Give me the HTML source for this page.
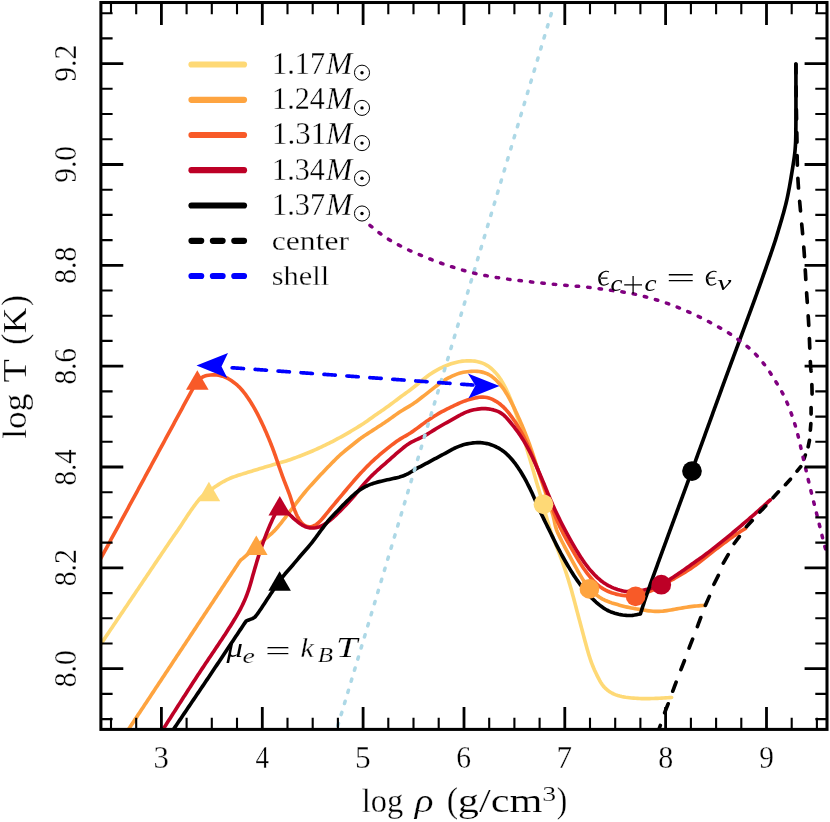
<!DOCTYPE html>
<html><head><meta charset="utf-8"><title>log T - log rho</title>
<style>html,body{margin:0;padding:0;background:#fff}svg{display:block;will-change:transform}text{font-family:"Liberation Serif",serif;fill:#000}</style>
</head><body>
<svg width="830" height="822" viewBox="0 0 830 822">
<rect width="830" height="822" fill="#fff"/>
<defs><clipPath id="cp"><rect x="100.9" y="2.5" width="726.1" height="726.9"/></clipPath></defs>
<g clip-path="url(#cp)" fill="none" stroke-linejoin="round" stroke-linecap="round">
<path d="M96.00 651.00 L97.18 649.37 L98.35 647.72 L99.50 646.06 L100.64 644.40 L101.77 642.73 L102.90 641.06 L104.04 639.39 L105.16 637.72 L106.29 636.04 L107.42 634.37 L108.55 632.70 L109.68 631.02 L110.81 629.35 L111.94 627.68 L113.06 626.00 L114.19 624.33 L115.32 622.66 L116.45 620.98 L117.57 619.31 L118.70 617.63 L119.83 615.96 L120.95 614.29 L122.08 612.61 L123.21 610.94 L124.34 609.26 L125.46 607.59 L126.59 605.92 L127.72 604.24 L128.84 602.57 L129.97 600.89 L131.10 599.22 L132.22 597.55 L133.35 595.87 L134.48 594.20 L135.61 592.52 L136.73 590.85 L137.86 589.18 L138.99 587.50 L140.12 585.83 L141.24 584.15 L142.37 582.48 L143.50 580.81 L144.62 579.13 L145.75 577.46 L146.88 575.78 L148.00 574.11 L149.13 572.44 L150.26 570.76 L151.38 569.09 L152.51 567.41 L153.64 565.74 L154.76 564.06 L155.89 562.39 L157.02 560.71 L158.14 559.04 L159.27 557.37 L160.40 555.69 L161.52 554.02 L162.65 552.34 L163.78 550.67 L164.91 549.00 L166.04 547.33 L167.17 545.65 L168.30 543.98 L169.43 542.31 L170.57 540.64 L171.71 538.98 L172.85 537.31 L174.00 535.65 L175.15 534.00 L176.30 532.34 L177.46 530.69 L178.60 529.02 L179.74 527.36 L180.86 525.68 L181.97 524.00 L183.08 522.31 L184.18 520.62 L185.28 518.92 L186.38 517.23 L187.49 515.55 L188.61 513.87 L189.75 512.20 L190.90 510.55 L192.07 508.90 L193.24 507.26 L194.43 505.63 L195.63 504.01 L196.84 502.39 L198.08 500.80 L199.36 499.24 L200.69 497.74 L202.11 496.32 L203.62 495.01 L205.23 493.80 L206.90 492.68 L208.60 491.60 L210.17 490.35 L211.76 489.14 L213.38 487.96 L215.03 486.83 L216.70 485.72 L218.38 484.63 L220.08 483.56 L221.79 482.52 L223.53 481.52 L225.29 480.57 L227.08 479.67 L228.89 478.83 L230.74 478.05 L232.60 477.32 L234.48 476.63 L236.38 475.97 L238.28 475.34 L240.19 474.72 L242.10 474.12 L244.01 473.53 L245.93 472.94 L247.84 472.35 L249.76 471.75 L251.67 471.16 L253.59 470.57 L255.50 469.98 L257.42 469.39 L259.34 468.81 L261.26 468.24 L263.18 467.66 L265.10 467.09 L267.02 466.52 L268.95 465.95 L270.87 465.39 L272.79 464.82 L274.71 464.25 L276.64 463.70 L278.57 463.15 L280.50 462.61 L282.43 462.06 L284.35 461.50 L286.27 460.91 L288.17 460.30 L290.07 459.65 L291.96 458.98 L293.85 458.30 L295.73 457.61 L297.61 456.91 L299.48 456.21 L301.35 455.49 L303.22 454.76 L305.09 454.03 L306.95 453.28 L308.80 452.52 L310.65 451.75 L312.50 450.96 L314.33 450.17 L316.17 449.35 L317.99 448.52 L319.81 447.69 L321.63 446.84 L323.44 445.97 L325.24 445.10 L327.04 444.22 L328.84 443.32 L330.62 442.42 L332.41 441.51 L334.19 440.58 L335.96 439.65 L337.73 438.71 L339.49 437.75 L341.25 436.79 L343.00 435.81 L344.75 434.83 L346.49 433.83 L348.22 432.83 L349.95 431.81 L351.67 430.79 L353.40 429.76 L355.11 428.73 L356.83 427.69 L358.54 426.64 L360.24 425.59 L361.94 424.53 L363.63 423.45 L365.29 422.34 L366.94 421.19 L368.56 420.02 L370.19 418.84 L371.81 417.67 L373.44 416.50 L375.08 415.34 L376.72 414.20 L378.37 413.06 L380.03 411.93 L381.69 410.81 L383.34 409.67 L384.98 408.52 L386.62 407.36 L388.24 406.19 L389.86 405.00 L391.46 403.80 L393.07 402.60 L394.67 401.40 L396.27 400.19 L397.87 398.98 L399.47 397.78 L401.08 396.58 L402.69 395.39 L404.31 394.21 L405.94 393.04 L407.56 391.86 L409.18 390.67 L410.79 389.48 L412.39 388.27 L413.97 387.05 L415.54 385.80 L417.09 384.53 L418.63 383.24 L420.16 381.95 L421.69 380.65 L423.24 379.38 L424.81 378.14 L426.40 376.93 L428.02 375.75 L429.66 374.60 L431.33 373.48 L433.01 372.39 L434.71 371.34 L436.45 370.34 L438.21 369.39 L440.00 368.48 L441.80 367.61 L443.62 366.77 L445.45 365.96 L447.30 365.19 L449.17 364.47 L451.06 363.80 L452.97 363.19 L454.89 362.65 L456.84 362.17 L458.80 361.76 L460.77 361.43 L462.75 361.16 L464.74 360.96 L466.74 360.84 L468.74 360.79 L470.74 360.82 L472.74 360.95 L474.72 361.17 L476.69 361.49 L478.64 361.93 L480.56 362.48 L482.44 363.14 L484.28 363.92 L486.06 364.82 L487.77 365.84 L489.40 366.99 L490.96 368.23 L492.45 369.56 L493.88 370.96 L495.26 372.41 L496.58 373.92 L497.85 375.46 L499.07 377.05 L500.22 378.68 L501.32 380.36 L502.35 382.07 L503.33 383.82 L504.28 385.59 L505.20 387.37 L506.09 389.16 L506.95 390.97 L507.79 392.79 L508.61 394.62 L509.40 396.46 L510.18 398.31 L510.94 400.16 L511.69 402.02 L512.42 403.89 L513.14 405.76 L513.84 407.64 L514.54 409.52 L515.22 411.40 L515.90 413.29 L516.56 415.18 L517.22 417.07 L517.86 418.97 L518.49 420.87 L519.12 422.78 L519.74 424.68 L520.35 426.59 L520.95 428.51 L521.54 430.42 L522.13 432.34 L522.70 434.26 L523.27 436.18 L523.84 438.10 L524.39 440.03 L524.94 441.96 L525.48 443.89 L526.01 445.82 L526.54 447.75 L527.09 449.68 L527.66 451.60 L528.23 453.52 L528.82 455.44 L529.40 457.36 L529.97 459.28 L530.54 461.20 L531.10 463.13 L531.66 465.05 L532.21 466.98 L532.76 468.91 L533.31 470.83 L533.86 472.76 L534.41 474.69 L534.95 476.62 L535.50 478.55 L536.06 480.47 L536.62 482.40 L537.19 484.32 L537.76 486.24 L538.35 488.16 L538.94 490.07 L539.52 491.99 L540.10 493.91 L540.66 495.83 L541.20 497.76 L541.73 499.70 L542.25 501.63 L542.78 503.57 L543.30 505.50 L543.83 507.44 L544.35 509.37 L544.87 511.31 L545.40 513.24 L545.93 515.17 L546.47 517.10 L547.01 519.03 L547.56 520.96 L548.12 522.89 L548.69 524.81 L549.27 526.73 L549.87 528.64 L550.49 530.54 L551.13 532.44 L551.80 534.33 L552.49 536.21 L553.20 538.09 L553.92 539.96 L554.66 541.82 L555.40 543.69 L556.15 545.54 L556.91 547.40 L557.66 549.26 L558.41 551.12 L559.13 552.99 L559.84 554.86 L560.54 556.74 L561.23 558.62 L561.91 560.51 L562.58 562.40 L563.24 564.29 L563.90 566.18 L564.55 568.08 L565.19 569.98 L565.83 571.88 L566.45 573.78 L567.07 575.69 L567.68 577.60 L568.28 579.51 L568.87 581.43 L569.45 583.35 L570.02 585.27 L570.58 587.19 L571.13 589.12 L571.68 591.05 L572.21 592.98 L572.74 594.91 L573.26 596.85 L573.78 598.79 L574.30 600.72 L574.81 602.66 L575.32 604.60 L575.83 606.54 L576.34 608.48 L576.85 610.42 L577.36 612.35 L577.87 614.29 L578.39 616.23 L578.91 618.16 L579.43 620.10 L579.95 622.04 L580.47 623.97 L580.99 625.91 L581.50 627.85 L582.02 629.78 L582.53 631.72 L583.04 633.66 L583.56 635.60 L584.07 637.53 L584.59 639.47 L585.11 641.41 L585.63 643.34 L586.16 645.27 L586.70 647.21 L587.24 649.14 L587.78 651.06 L588.34 652.99 L588.92 654.91 L589.51 656.82 L590.13 658.73 L590.78 660.63 L591.46 662.51 L592.17 664.39 L592.91 666.25 L593.68 668.10 L594.47 669.94 L595.30 671.76 L596.15 673.58 L597.02 675.38 L597.91 677.18 L598.83 678.96 L599.78 680.72 L600.79 682.45 L601.88 684.12 L603.07 685.72 L604.36 687.24 L605.77 688.65 L607.27 689.96 L608.85 691.17 L610.52 692.27 L612.25 693.25 L614.05 694.12 L615.90 694.87 L617.79 695.52 L619.71 696.06 L621.66 696.52 L623.62 696.90 L625.60 697.22 L627.58 697.49 L629.57 697.73 L631.57 697.94 L633.56 698.12 L635.56 698.28 L637.56 698.41 L639.56 698.51 L641.56 698.58 L643.57 698.62 L645.57 698.62 L647.58 698.61 L649.58 698.57 L651.58 698.53 L653.59 698.47 L655.59 698.41 L657.59 698.34 L659.60 698.25 L661.60 698.15 L663.60 698.04 L665.60 697.91 L667.60 697.78 L669.60 697.64 L671.60 697.50" stroke="#FED976" stroke-width="3.65"/>
<path d="M126.00 733.00 L125.89 733.20 L126.07 732.98 L126.62 732.17 L127.47 730.89 L128.50 729.35 L129.58 727.72 L130.69 726.05 L131.80 724.38 L132.90 722.71 L134.01 721.04 L135.11 719.36 L136.22 717.69 L137.33 716.02 L138.43 714.35 L139.54 712.68 L140.64 711.01 L141.75 709.34 L142.85 707.67 L143.96 705.99 L145.06 704.32 L146.17 702.65 L147.27 700.98 L148.38 699.31 L149.48 697.64 L150.59 695.97 L151.69 694.29 L152.80 692.62 L153.90 690.95 L155.01 689.28 L156.12 687.61 L157.22 685.94 L158.33 684.27 L159.43 682.59 L160.54 680.92 L161.64 679.25 L162.75 677.58 L163.85 675.91 L164.96 674.24 L166.06 672.57 L167.17 670.89 L168.27 669.22 L169.38 667.55 L170.48 665.88 L171.59 664.21 L172.70 662.54 L173.80 660.87 L174.91 659.20 L176.01 657.53 L177.12 655.85 L178.22 654.18 L179.33 652.51 L180.44 650.84 L181.54 649.17 L182.65 647.50 L183.75 645.83 L184.86 644.16 L185.97 642.49 L187.07 640.82 L188.18 639.15 L189.29 637.47 L190.39 635.80 L191.50 634.13 L192.60 632.46 L193.71 630.79 L194.82 629.12 L195.92 627.45 L197.03 625.78 L198.14 624.11 L199.24 622.44 L200.35 620.77 L201.45 619.10 L202.56 617.43 L203.67 615.76 L204.77 614.09 L205.88 612.41 L206.99 610.74 L208.09 609.07 L209.20 607.40 L210.31 605.73 L211.41 604.06 L212.52 602.39 L213.63 600.72 L214.73 599.05 L215.84 597.38 L216.95 595.71 L218.05 594.04 L219.16 592.37 L220.27 590.70 L221.37 589.03 L222.48 587.36 L223.59 585.69 L224.69 584.02 L225.80 582.35 L226.91 580.68 L228.01 579.00 L229.12 577.33 L230.23 575.66 L231.33 573.99 L232.44 572.32 L233.55 570.65 L234.65 568.98 L235.76 567.31 L236.86 565.65 L237.92 564.03 L238.91 562.55 L239.74 561.33 L240.38 560.47 L240.95 559.90 L241.63 559.38 L242.59 558.66 L243.82 557.66 L245.22 556.47 L246.69 555.18 L248.18 553.84 L249.67 552.50 L251.15 551.15 L252.63 549.81 L254.12 548.46 L255.61 547.12 L257.11 545.79 L258.62 544.47 L260.13 543.16 L261.66 541.87 L263.19 540.58 L264.73 539.30 L266.28 538.03 L267.83 536.76 L269.36 535.47 L270.87 534.15 L272.34 532.80 L273.77 531.39 L275.16 529.95 L276.50 528.47 L277.82 526.96 L279.10 525.42 L280.36 523.87 L281.61 522.29 L282.84 520.71 L284.06 519.13 L285.28 517.54 L286.50 515.95 L287.71 514.35 L288.93 512.76 L290.14 511.17 L291.36 509.58 L292.58 507.99 L293.81 506.40 L295.03 504.81 L296.25 503.23 L297.47 501.63 L298.69 500.04 L299.91 498.46 L301.15 496.88 L302.40 495.32 L303.67 493.77 L304.95 492.22 L306.24 490.69 L307.54 489.17 L308.86 487.66 L310.18 486.16 L311.52 484.67 L312.87 483.18 L314.22 481.70 L315.57 480.22 L316.93 478.75 L318.29 477.28 L319.65 475.81 L321.02 474.35 L322.40 472.89 L323.77 471.43 L325.16 469.98 L326.54 468.54 L327.93 467.09 L329.32 465.65 L330.72 464.21 L332.12 462.78 L333.53 461.35 L334.94 459.94 L336.37 458.53 L337.81 457.14 L339.27 455.77 L340.75 454.42 L342.25 453.09 L343.78 451.80 L345.32 450.52 L346.89 449.27 L348.46 448.03 L350.03 446.79 L351.61 445.54 L353.17 444.29 L354.72 443.02 L356.27 441.76 L357.84 440.51 L359.42 439.29 L361.03 438.10 L362.67 436.95 L364.33 435.82 L366.00 434.72 L367.68 433.62 L369.36 432.53 L371.04 431.44 L372.72 430.35 L374.41 429.26 L376.09 428.18 L377.77 427.09 L379.45 426.00 L381.13 424.91 L382.81 423.81 L384.48 422.70 L386.14 421.58 L387.79 420.44 L389.43 419.29 L391.06 418.13 L392.68 416.95 L394.30 415.78 L395.93 414.61 L397.57 413.46 L399.23 412.33 L400.91 411.24 L402.61 410.19 L404.33 409.16 L406.05 408.14 L407.78 407.12 L409.49 406.08 L411.19 405.02 L412.87 403.92 L414.52 402.80 L416.16 401.64 L417.77 400.46 L419.37 399.25 L420.96 398.03 L422.54 396.80 L424.12 395.57 L425.70 394.34 L427.28 393.10 L428.86 391.87 L430.43 390.63 L432.01 389.39 L433.58 388.15 L435.16 386.91 L436.74 385.69 L438.34 384.47 L439.95 383.28 L441.58 382.13 L443.24 381.01 L444.94 379.94 L446.66 378.93 L448.41 377.97 L450.20 377.05 L452.00 376.18 L453.82 375.36 L455.67 374.59 L457.54 373.88 L459.43 373.26 L461.36 372.74 L463.31 372.31 L465.28 371.97 L467.26 371.70 L469.25 371.49 L471.25 371.34 L473.24 371.25 L475.24 371.24 L477.23 371.33 L479.21 371.54 L481.16 371.88 L483.10 372.36 L485.00 372.95 L486.85 373.66 L488.65 374.50 L490.37 375.49 L492.00 376.61 L493.56 377.85 L495.06 379.17 L496.50 380.55 L497.89 381.99 L499.24 383.47 L500.54 385.00 L501.78 386.56 L502.98 388.16 L504.13 389.80 L505.23 391.47 L506.28 393.17 L507.31 394.90 L508.30 396.64 L509.26 398.39 L510.20 400.16 L511.12 401.94 L512.03 403.73 L512.92 405.52 L513.79 407.33 L514.66 409.13 L515.52 410.94 L516.37 412.76 L517.21 414.57 L518.05 416.40 L518.87 418.22 L519.69 420.05 L520.50 421.89 L521.30 423.72 L522.08 425.57 L522.86 427.41 L523.63 429.26 L524.39 431.12 L525.14 432.98 L525.87 434.84 L526.60 436.71 L527.32 438.58 L528.03 440.45 L528.73 442.33 L529.41 444.21 L530.09 446.10 L530.75 447.99 L531.40 449.88 L532.04 451.78 L532.68 453.68 L533.31 455.58 L533.93 457.49 L534.55 459.39 L535.17 461.30 L535.78 463.21 L536.39 465.12 L537.01 467.02 L537.62 468.93 L538.24 470.84 L538.85 472.74 L539.47 474.65 L540.10 476.55 L540.73 478.46 L541.36 480.36 L542.00 482.26 L542.64 484.16 L543.28 486.06 L543.92 487.95 L544.56 489.85 L545.21 491.75 L545.85 493.65 L546.50 495.54 L547.14 497.44 L547.78 499.34 L548.43 501.24 L549.06 503.14 L549.70 505.04 L550.33 506.94 L550.96 508.84 L551.57 510.75 L552.17 512.66 L552.75 514.58 L553.29 516.50 L553.77 518.45 L554.20 520.40 L554.60 522.36 L555.01 524.32 L555.47 526.26 L556.02 528.17 L556.67 530.06 L557.40 531.92 L558.20 533.75 L559.04 535.57 L559.91 537.38 L560.80 539.17 L561.70 540.96 L562.61 542.74 L563.54 544.52 L564.47 546.30 L565.40 548.07 L566.34 549.84 L567.28 551.61 L568.21 553.38 L569.15 555.15 L570.09 556.92 L571.03 558.69 L571.98 560.46 L572.93 562.22 L573.89 563.98 L574.85 565.74 L575.82 567.49 L576.79 569.24 L577.78 570.99 L578.78 572.72 L579.79 574.46 L580.81 576.18 L581.84 577.90 L582.89 579.60 L583.97 581.29 L585.08 582.95 L586.25 584.57 L587.48 586.15 L588.78 587.67 L590.13 589.14 L591.53 590.58 L592.97 591.97 L594.45 593.31 L595.98 594.60 L597.55 595.83 L599.18 596.98 L600.86 598.06 L602.59 599.06 L604.37 599.97 L606.19 600.79 L608.04 601.55 L609.91 602.24 L611.81 602.89 L613.72 603.49 L615.64 604.07 L617.56 604.62 L619.49 605.15 L621.43 605.67 L623.37 606.17 L625.32 606.65 L627.27 607.10 L629.22 607.53 L631.18 607.94 L633.15 608.32 L635.12 608.69 L637.09 609.03 L639.07 609.37 L641.05 609.69 L643.03 609.99 L645.01 610.29 L646.99 610.57 L648.98 610.82 L650.97 611.04 L652.97 611.22 L654.96 611.33 L656.96 611.39 L658.96 611.36 L660.96 611.27 L662.95 611.10 L664.94 610.86 L666.92 610.58 L668.90 610.27 L670.87 609.93 L672.85 609.59 L674.82 609.25 L676.80 608.91 L678.77 608.57 L680.74 608.22 L682.72 607.87 L684.69 607.52 L686.67 607.19 L688.65 606.89 L690.63 606.62 L692.62 606.39 L694.61 606.18 L696.61 606.00 L698.61 605.84 L700.60 605.69 L702.60 605.54 L704.60 605.40" stroke="#FEA440" stroke-width="3.65"/>
<path d="M95.00 569.10 L96.05 567.17 L97.10 565.23 L98.15 563.30 L99.20 561.37 L100.25 559.43 L101.30 557.50 L102.26 555.72 L103.23 553.95 L104.19 552.17 L105.15 550.39 L106.12 548.62 L107.08 546.84 L108.04 545.07 L109.01 543.29 L109.97 541.51 L110.93 539.74 L111.89 537.96 L112.86 536.18 L113.82 534.41 L114.78 532.63 L115.75 530.86 L116.71 529.08 L117.67 527.30 L118.64 525.53 L119.60 523.75 L120.56 521.97 L121.53 520.20 L122.49 518.42 L123.45 516.64 L124.42 514.87 L125.38 513.09 L126.34 511.32 L127.31 509.54 L128.27 507.76 L129.23 505.99 L130.19 504.21 L131.16 502.43 L132.12 500.66 L133.08 498.88 L134.05 497.11 L135.01 495.33 L135.97 493.55 L136.94 491.78 L137.90 490.00 L138.87 488.21 L139.84 486.43 L140.80 484.64 L141.77 482.86 L142.74 481.07 L143.71 479.29 L144.68 477.50 L145.64 475.71 L146.61 473.93 L147.58 472.14 L148.55 470.36 L149.51 468.57 L150.48 466.79 L151.45 465.00 L152.42 463.21 L153.39 461.43 L154.35 459.64 L155.32 457.86 L156.29 456.07 L157.26 454.29 L158.22 452.50 L159.19 450.71 L160.16 448.93 L161.13 447.14 L162.10 445.36 L163.06 443.57 L164.03 441.79 L165.00 440.00 L165.96 438.22 L166.92 436.45 L167.88 434.67 L168.85 432.89 L169.81 431.12 L170.77 429.34 L171.73 427.56 L172.69 425.78 L173.65 424.01 L174.62 422.23 L175.58 420.45 L176.54 418.68 L177.50 416.90 L178.46 415.12 L179.42 413.35 L180.38 411.57 L181.35 409.79 L182.31 408.02 L183.27 406.24 L184.23 404.46 L185.19 402.68 L186.15 400.91 L187.12 399.13 L188.08 397.35 L189.04 395.58 L190.00 393.80 L190.96 392.04 L191.91 390.28 L192.88 388.53 L193.87 386.78 L194.89 385.06 L195.96 383.39 L197.12 381.78 L198.39 380.28 L199.79 378.92 L201.33 377.76 L203.02 376.81 L204.81 376.08 L206.70 375.55 L208.64 375.20 L210.61 374.99 L212.60 374.89 L214.59 374.91 L216.57 375.03 L218.55 375.27 L220.50 375.63 L222.41 376.13 L224.27 376.78 L226.09 377.58 L227.85 378.49 L229.57 379.50 L231.25 380.58 L232.89 381.72 L234.50 382.91 L236.05 384.17 L237.56 385.48 L239.01 386.85 L240.40 388.28 L241.74 389.76 L243.04 391.29 L244.28 392.85 L245.49 394.45 L246.67 396.07 L247.81 397.71 L248.93 399.37 L250.02 401.05 L251.09 402.75 L252.13 404.46 L253.15 406.18 L254.15 407.92 L255.13 409.66 L256.09 411.42 L257.04 413.19 L257.96 414.96 L258.87 416.75 L259.76 418.54 L260.64 420.34 L261.50 422.15 L262.36 423.96 L263.20 425.78 L264.03 427.61 L264.85 429.43 L265.66 431.27 L266.46 433.10 L267.25 434.94 L268.03 436.79 L268.81 438.64 L269.57 440.49 L270.33 442.34 L271.07 444.21 L271.80 446.07 L272.51 447.94 L273.21 449.82 L273.90 451.70 L274.58 453.59 L275.25 455.47 L275.91 457.36 L276.57 459.26 L277.23 461.15 L277.88 463.04 L278.53 464.94 L279.18 466.83 L279.84 468.73 L280.50 470.62 L281.16 472.51 L281.84 474.40 L282.52 476.28 L283.22 478.16 L283.93 480.03 L284.64 481.90 L285.37 483.77 L286.10 485.64 L286.83 487.50 L287.56 489.37 L288.29 491.23 L288.99 493.11 L289.67 494.99 L290.33 496.89 L290.95 498.79 L291.55 500.70 L292.14 502.61 L292.74 504.53 L293.35 506.43 L293.99 508.33 L294.68 510.20 L295.42 512.06 L296.21 513.90 L297.05 515.72 L297.96 517.49 L298.94 519.22 L300.03 520.88 L301.23 522.43 L302.57 523.84 L304.06 525.05 L305.69 525.99 L307.44 526.61 L309.26 526.87 L311.11 526.76 L312.92 526.29 L314.65 525.52 L316.29 524.49 L317.84 523.28 L319.30 521.95 L320.70 520.52 L322.04 519.05 L323.35 517.53 L324.63 515.99 L325.90 514.44 L327.16 512.88 L328.41 511.32 L329.67 509.76 L330.93 508.20 L332.19 506.65 L333.47 505.10 L334.75 503.56 L336.03 502.02 L337.32 500.48 L338.60 498.95 L339.89 497.41 L341.17 495.87 L342.45 494.33 L343.74 492.79 L345.02 491.26 L346.31 489.72 L347.60 488.19 L348.89 486.65 L350.18 485.12 L351.48 483.60 L352.79 482.08 L354.10 480.56 L355.42 479.06 L356.74 477.55 L358.08 476.06 L359.42 474.57 L360.78 473.10 L362.14 471.63 L363.51 470.17 L364.89 468.72 L366.28 467.28 L367.68 465.85 L369.10 464.43 L370.54 463.04 L372.00 461.66 L373.47 460.30 L374.96 458.96 L376.45 457.63 L377.96 456.31 L379.47 454.99 L380.99 453.69 L382.52 452.39 L384.05 451.11 L385.60 449.83 L387.15 448.57 L388.72 447.32 L390.30 446.08 L391.89 444.87 L393.49 443.67 L395.11 442.49 L396.74 441.33 L398.40 440.20 L400.07 439.11 L401.77 438.05 L403.50 437.04 L405.24 436.05 L406.97 435.05 L408.69 434.03 L410.39 432.97 L412.06 431.87 L413.71 430.74 L415.34 429.57 L416.96 428.39 L418.57 427.20 L420.18 426.00 L421.78 424.81 L423.40 423.62 L425.02 422.44 L426.64 421.27 L428.29 420.13 L429.94 419.00 L431.61 417.89 L433.29 416.80 L434.99 415.74 L436.70 414.69 L438.42 413.67 L440.16 412.68 L441.92 411.72 L443.68 410.78 L445.47 409.87 L447.26 408.97 L449.05 408.08 L450.85 407.20 L452.65 406.32 L454.46 405.45 L456.27 404.59 L458.09 403.75 L459.92 402.94 L461.76 402.15 L463.62 401.41 L465.50 400.72 L467.39 400.08 L469.30 399.49 L471.23 398.95 L473.17 398.45 L475.11 398.00 L477.07 397.60 L479.04 397.30 L481.01 397.12 L482.99 397.08 L484.96 397.20 L486.90 397.50 L488.81 397.97 L490.68 398.62 L492.50 399.40 L494.27 400.31 L495.99 401.31 L497.67 402.38 L499.30 403.53 L500.88 404.76 L502.39 406.06 L503.83 407.43 L505.22 408.87 L506.55 410.36 L507.84 411.89 L509.09 413.46 L510.31 415.04 L511.50 416.65 L512.67 418.27 L513.82 419.92 L514.93 421.58 L516.02 423.26 L517.09 424.96 L518.13 426.67 L519.14 428.40 L520.13 430.14 L521.11 431.89 L522.06 433.65 L523.00 435.42 L523.91 437.20 L524.82 438.99 L525.70 440.79 L526.57 442.59 L527.42 444.40 L528.26 446.22 L529.09 448.05 L529.89 449.88 L530.69 451.72 L531.46 453.57 L532.23 455.42 L532.98 457.28 L533.73 459.14 L534.46 461.00 L535.19 462.87 L535.92 464.74 L536.64 466.61 L537.35 468.48 L538.07 470.35 L538.78 472.22 L539.50 474.09 L540.21 475.96 L540.92 477.84 L541.63 479.71 L542.34 481.59 L543.04 483.46 L543.74 485.34 L544.43 487.22 L545.13 489.10 L545.82 490.98 L546.51 492.86 L547.20 494.74 L547.89 496.62 L548.58 498.50 L549.27 500.38 L549.96 502.26 L550.67 504.14 L551.37 506.02 L552.09 507.89 L552.80 509.76 L553.53 511.63 L554.26 513.49 L555.00 515.35 L555.75 517.21 L556.51 519.06 L557.29 520.91 L558.08 522.75 L558.89 524.58 L559.73 526.40 L560.58 528.21 L561.46 530.02 L562.35 531.81 L563.26 533.59 L564.19 535.37 L565.14 537.13 L566.09 538.89 L567.06 540.65 L568.04 542.40 L569.03 544.14 L570.02 545.88 L571.02 547.62 L572.02 549.35 L573.03 551.09 L574.03 552.82 L575.04 554.55 L576.06 556.28 L577.07 558.00 L578.10 559.73 L579.13 561.44 L580.18 563.15 L581.25 564.84 L582.35 566.52 L583.47 568.17 L584.62 569.81 L585.80 571.43 L587.01 573.03 L588.24 574.61 L589.49 576.17 L590.77 577.71 L592.08 579.22 L593.43 580.71 L594.81 582.15 L596.24 583.54 L597.73 584.88 L599.27 586.15 L600.86 587.34 L602.52 588.44 L604.23 589.46 L606.00 590.40 L607.80 591.24 L609.64 592.01 L611.52 592.70 L613.42 593.32 L615.34 593.87 L617.28 594.36 L619.23 594.78 L621.20 595.13 L623.18 595.41 L625.17 595.62 L627.16 595.76 L629.16 595.83 L631.15 595.82 L633.15 595.73 L635.14 595.56 L637.11 595.30 L639.08 594.94 L641.02 594.49 L642.94 593.95 L644.84 593.33 L646.72 592.65 L648.58 591.92 L650.43 591.15 L652.26 590.34 L654.08 589.50 L655.88 588.63 L657.67 587.73 L659.45 586.81 L661.22 585.87 L662.98 584.91 L664.74 583.95 L666.49 582.97 L668.24 582.00 L669.98 581.01 L671.73 580.03 L673.47 579.04 L675.21 578.04 L676.94 577.04 L678.68 576.04 L680.40 575.02 L682.12 573.99 L683.84 572.95 L685.54 571.90 L687.24 570.83 L688.92 569.75 L690.59 568.64 L692.24 567.51 L693.88 566.35 L695.50 565.18 L697.11 563.98 L698.70 562.77 L700.29 561.55 L701.87 560.32 L703.45 559.09 L705.03 557.86 L706.61 556.62 L708.18 555.38 L709.75 554.13 L711.32 552.89 L712.89 551.64 L714.46 550.40 L716.04 549.17 L717.63 547.94 L719.22 546.73 L720.82 545.52 L722.42 544.32 L724.03 543.12 L725.64 541.93 L727.25 540.74 L728.87 539.56 L730.49 538.38 L732.12 537.21 L733.76 536.06 L735.40 534.91 L737.06 533.79 L738.73 532.68 L740.41 531.59 L742.10 530.52 L743.80 529.46 L745.50 528.40" stroke="#F85A28" stroke-width="3.65"/>
<path d="M160.50 733.00 L161.41 731.67 L162.35 730.28 L163.32 728.81 L164.34 727.26 L165.40 725.64 L166.47 723.98 L167.55 722.29 L168.64 720.60 L169.72 718.91 L170.81 717.21 L171.89 715.51 L172.98 713.81 L174.06 712.12 L175.15 710.42 L176.24 708.72 L177.32 707.03 L178.41 705.33 L179.49 703.63 L180.58 701.93 L181.67 700.24 L182.75 698.54 L183.84 696.85 L184.93 695.15 L186.02 693.46 L187.11 691.76 L188.20 690.07 L189.29 688.37 L190.38 686.68 L191.47 684.99 L192.57 683.30 L193.66 681.61 L194.76 679.92 L195.86 678.23 L196.96 676.54 L198.06 674.86 L199.17 673.17 L200.28 671.49 L201.39 669.81 L202.50 668.13 L203.62 666.45 L204.74 664.78 L205.86 663.10 L206.98 661.43 L208.10 659.76 L209.22 658.08 L210.35 656.41 L211.48 654.74 L212.60 653.07 L213.73 651.40 L214.85 649.73 L215.98 648.06 L217.10 646.39 L218.22 644.71 L219.34 643.04 L220.46 641.36 L221.58 639.69 L222.69 638.01 L223.79 636.32 L224.90 634.64 L225.99 632.95 L227.09 631.25 L228.17 629.56 L229.26 627.86 L230.33 626.16 L231.40 624.45 L232.47 622.74 L233.52 621.02 L234.57 619.30 L235.60 617.57 L236.62 615.83 L237.63 614.09 L238.61 612.34 L239.59 610.57 L240.54 608.80 L241.46 607.01 L242.36 605.21 L243.23 603.39 L244.07 601.56 L244.88 599.72 L245.66 597.86 L246.40 595.99 L247.12 594.11 L247.81 592.22 L248.47 590.32 L249.10 588.41 L249.70 586.49 L250.28 584.56 L250.84 582.62 L251.39 580.69 L251.93 578.75 L252.47 576.81 L253.02 574.87 L253.57 572.93 L254.13 570.99 L254.69 569.06 L255.25 567.12 L255.82 565.19 L256.39 563.26 L256.96 561.33 L257.54 559.40 L258.12 557.47 L258.71 555.54 L259.32 553.62 L259.93 551.70 L260.56 549.79 L261.20 547.88 L261.86 545.97 L262.53 544.08 L263.21 542.18 L263.91 540.29 L264.62 538.41 L265.34 536.53 L266.07 534.65 L266.81 532.78 L267.57 530.91 L268.33 529.04 L269.10 527.18 L269.89 525.33 L270.69 523.48 L271.50 521.64 L272.33 519.80 L273.19 517.98 L274.08 516.18 L275.00 514.39 L275.96 512.62 L276.96 510.88 L278.00 509.16 L279.06 507.45 L279.60 506.60 L281.27 507.65 L282.91 508.75 L284.50 509.93 L286.02 511.18 L287.48 512.52 L288.91 513.89 L290.34 515.29 L291.78 516.68 L293.24 518.04 L294.73 519.38 L296.24 520.68 L297.79 521.95 L299.37 523.16 L301.00 524.30 L302.68 525.34 L304.41 526.24 L306.20 526.99 L308.06 527.54 L309.95 527.89 L311.88 528.04 L313.82 527.99 L315.76 527.75 L317.66 527.33 L319.53 526.74 L321.35 525.99 L323.11 525.11 L324.81 524.11 L326.46 523.00 L328.07 521.82 L329.64 520.59 L331.18 519.31 L332.69 518.00 L334.18 516.66 L335.66 515.30 L337.11 513.93 L338.55 512.53 L339.98 511.12 L341.39 509.70 L342.79 508.26 L344.18 506.82 L345.56 505.37 L346.94 503.92 L348.31 502.45 L349.68 500.99 L351.03 499.51 L352.37 498.02 L353.68 496.51 L354.98 494.98 L356.25 493.43 L357.51 491.87 L358.76 490.31 L360.01 488.74 L361.27 487.18 L362.54 485.64 L363.84 484.11 L365.15 482.60 L366.49 481.11 L367.85 479.64 L369.23 478.19 L370.64 476.76 L372.06 475.35 L373.50 473.95 L374.96 472.58 L376.43 471.23 L377.92 469.88 L379.42 468.55 L380.93 467.23 L382.44 465.91 L383.95 464.59 L385.46 463.27 L386.96 461.95 L388.47 460.63 L389.97 459.30 L391.47 457.97 L392.97 456.64 L394.47 455.31 L395.98 453.99 L397.49 452.67 L399.01 451.36 L400.54 450.07 L402.07 448.78 L403.63 447.52 L405.20 446.29 L406.81 445.10 L408.45 443.97 L410.13 442.91 L411.86 441.94 L413.63 441.04 L415.43 440.19 L417.24 439.36 L419.05 438.52 L420.85 437.65 L422.63 436.74 L424.39 435.79 L426.13 434.81 L427.86 433.80 L429.58 432.77 L431.29 431.73 L433.00 430.67 L434.70 429.62 L436.41 428.56 L438.12 427.52 L439.83 426.49 L441.56 425.47 L443.30 424.48 L445.05 423.50 L446.80 422.53 L448.56 421.56 L450.32 420.60 L452.07 419.62 L453.82 418.64 L455.56 417.66 L457.31 416.67 L459.06 415.69 L460.81 414.73 L462.59 413.81 L464.38 412.94 L466.20 412.13 L468.05 411.41 L469.94 410.79 L471.85 410.26 L473.79 409.81 L475.75 409.43 L477.72 409.11 L479.70 408.86 L481.68 408.69 L483.66 408.62 L485.64 408.66 L487.60 408.81 L489.56 409.08 L491.51 409.44 L493.44 409.89 L495.33 410.44 L497.17 411.11 L498.95 411.91 L500.65 412.87 L502.27 413.97 L503.80 415.20 L505.25 416.54 L506.63 417.97 L507.96 419.45 L509.26 420.97 L510.53 422.52 L511.79 424.08 L513.04 425.64 L514.28 427.22 L515.50 428.81 L516.70 430.41 L517.87 432.04 L519.03 433.67 L520.16 435.33 L521.27 436.99 L522.36 438.68 L523.42 440.38 L524.46 442.09 L525.47 443.82 L526.47 445.56 L527.44 447.31 L528.38 449.08 L529.31 450.85 L530.21 452.64 L531.09 454.44 L531.96 456.25 L532.81 458.07 L533.64 459.89 L534.46 461.72 L535.27 463.55 L536.08 465.38 L536.88 467.22 L537.68 469.06 L538.47 470.90 L539.26 472.74 L540.05 474.59 L540.84 476.43 L541.62 478.28 L542.40 480.12 L543.18 481.97 L543.95 483.82 L544.71 485.68 L545.47 487.53 L546.23 489.39 L546.99 491.24 L547.75 493.09 L548.52 494.95 L549.29 496.80 L550.07 498.65 L550.85 500.49 L551.65 502.33 L552.45 504.17 L553.27 506.00 L554.10 507.82 L554.93 509.64 L555.78 511.46 L556.64 513.27 L557.51 515.08 L558.38 516.88 L559.27 518.68 L560.16 520.48 L561.05 522.27 L561.96 524.06 L562.87 525.84 L563.79 527.63 L564.72 529.40 L565.65 531.18 L566.59 532.95 L567.54 534.71 L568.50 536.47 L569.47 538.23 L570.45 539.98 L571.44 541.72 L572.44 543.46 L573.45 545.19 L574.47 546.91 L575.50 548.63 L576.54 550.35 L577.58 552.06 L578.64 553.76 L579.70 555.46 L580.78 557.15 L581.87 558.83 L582.98 560.50 L584.11 562.15 L585.28 563.78 L586.47 565.39 L587.69 566.97 L588.95 568.53 L590.24 570.07 L591.55 571.57 L592.90 573.05 L594.28 574.51 L595.69 575.93 L597.13 577.31 L598.61 578.66 L600.13 579.96 L601.68 581.21 L603.29 582.39 L604.94 583.51 L606.63 584.56 L608.37 585.54 L610.14 586.46 L611.95 587.31 L613.79 588.09 L615.65 588.82 L617.53 589.49 L619.43 590.09 L621.35 590.61 L623.30 591.03 L625.26 591.35 L627.23 591.56 L629.21 591.67 L631.20 591.67 L633.19 591.59 L635.18 591.43 L637.17 591.20 L639.15 590.92 L641.12 590.59 L643.09 590.22 L645.05 589.82 L647.01 589.38 L648.95 588.89 L650.88 588.37 L652.79 587.79 L654.69 587.16 L656.56 586.46 L658.41 585.70 L660.23 584.88 L662.02 583.99 L663.78 583.05 L665.52 582.06 L667.24 581.03 L668.93 579.97 L670.62 578.89 L672.30 577.79 L673.97 576.68 L675.63 575.56 L677.29 574.44 L678.95 573.31 L680.60 572.18 L682.25 571.04 L683.89 569.89 L685.53 568.73 L687.16 567.57 L688.79 566.40 L690.42 565.23 L692.05 564.07 L693.69 562.92 L695.33 561.76 L696.97 560.61 L698.61 559.46 L700.25 558.30 L701.88 557.14 L703.50 555.96 L705.11 554.77 L706.72 553.57 L708.31 552.35 L709.90 551.13 L711.48 549.90 L713.06 548.66 L714.64 547.42 L716.21 546.18 L717.78 544.93 L719.35 543.68 L720.91 542.43 L722.47 541.17 L724.03 539.92 L725.59 538.65 L727.15 537.39 L728.70 536.12 L730.24 534.84 L731.79 533.56 L733.32 532.27 L734.86 530.98 L736.39 529.69 L737.92 528.39 L739.44 527.09 L740.97 525.80 L742.50 524.50 L744.03 523.20 L745.55 521.90 L747.08 520.60 L748.60 519.29 L750.12 517.98 L751.63 516.67 L753.14 515.35 L754.64 514.02 L756.14 512.69 L757.64 511.36 L759.13 510.02 L760.62 508.68 L762.11 507.34 L763.60 506.00 L765.09 504.66 L766.58 503.32 L768.07 501.97 L769.56 500.63 L770.30 499.96" stroke="#BD0026" stroke-width="3.65"/>
<path d="M171.00 733.00 L172.60 730.65 L174.20 728.30 L175.34 726.61 L176.48 724.93 L177.62 723.24 L178.75 721.55 L179.89 719.86 L181.03 718.18 L182.17 716.49 L183.31 714.80 L184.45 713.12 L185.59 711.43 L186.73 709.74 L187.86 708.05 L189.00 706.37 L190.14 704.68 L191.28 702.99 L192.42 701.31 L193.56 699.62 L194.70 697.93 L195.84 696.25 L196.97 694.56 L198.11 692.87 L199.25 691.18 L200.39 689.50 L201.53 687.81 L202.67 686.12 L203.81 684.44 L204.95 682.75 L206.08 681.06 L207.22 679.37 L208.36 677.69 L209.50 676.00 L210.65 674.27 L211.81 672.54 L212.96 670.81 L214.11 669.07 L215.26 667.34 L216.42 665.61 L217.57 663.88 L218.72 662.15 L219.87 660.42 L221.03 658.68 L222.18 656.95 L223.33 655.22 L224.48 653.49 L225.64 651.76 L226.79 650.03 L227.94 648.29 L229.09 646.56 L230.25 644.83 L231.40 643.10 L232.52 641.42 L233.65 639.73 L234.77 638.05 L235.89 636.36 L237.02 634.68 L238.14 632.99 L239.26 631.31 L240.38 629.62 L241.51 627.94 L242.63 626.25 L243.75 624.57 L244.88 622.88 L246.00 621.20 L248.09 620.22 L250.24 619.40 L252.36 618.59 L254.30 617.47 L255.20 616.80 L256.44 615.23 L257.64 613.62 L258.80 611.99 L259.94 610.33 L261.05 608.67 L262.16 607.00 L263.27 605.33 L264.37 603.65 L265.47 601.98 L266.57 600.30 L267.67 598.62 L268.77 596.95 L269.87 595.27 L270.97 593.60 L272.08 591.92 L273.18 590.25 L274.29 588.57 L275.40 586.90 L276.51 585.24 L277.67 583.60 L278.85 581.99 L280.06 580.39 L281.27 578.78 L282.47 577.18 L283.69 575.59 L284.94 574.02 L286.24 572.50 L287.57 571.00 L288.91 569.51 L290.24 568.00 L291.55 566.49 L292.86 564.97 L294.16 563.44 L295.45 561.91 L296.73 560.37 L298.02 558.83 L299.30 557.29 L300.59 555.75 L301.89 554.23 L303.21 552.72 L304.53 551.21 L305.86 549.71 L307.19 548.21 L308.50 546.69 L309.80 545.17 L311.08 543.62 L312.33 542.05 L313.56 540.47 L314.76 538.87 L315.96 537.25 L317.14 535.64 L318.32 534.01 L319.50 532.39 L320.68 530.77 L321.87 529.16 L323.07 527.56 L324.29 525.96 L325.51 524.37 L326.74 522.79 L327.97 521.21 L329.23 519.64 L330.53 518.12 L331.89 516.65 L333.28 515.21 L334.68 513.77 L336.08 512.34 L337.49 510.91 L338.88 509.46 L340.25 508.01 L341.63 506.55 L343.01 505.09 L344.41 503.66 L345.82 502.23 L347.25 500.83 L348.69 499.44 L350.15 498.05 L351.61 496.68 L353.09 495.33 L354.59 494.00 L356.13 492.71 L357.71 491.48 L359.34 490.32 L361.01 489.22 L362.72 488.17 L364.46 487.17 L366.23 486.24 L368.04 485.38 L369.89 484.61 L371.76 483.91 L373.66 483.25 L375.57 482.66 L377.50 482.12 L379.45 481.63 L381.40 481.17 L383.35 480.72 L385.31 480.27 L387.26 479.84 L389.22 479.41 L391.18 478.98 L393.14 478.56 L395.10 478.12 L397.05 477.65 L398.99 477.15 L400.91 476.59 L402.81 475.96 L404.68 475.23 L406.51 474.42 L408.30 473.53 L410.05 472.55 L411.75 471.50 L413.44 470.42 L415.16 469.39 L416.91 468.42 L418.68 467.47 L420.45 466.54 L422.22 465.60 L423.99 464.66 L425.76 463.72 L427.53 462.77 L429.29 461.82 L431.06 460.86 L432.82 459.92 L434.59 458.97 L436.36 458.03 L438.14 457.09 L439.91 456.15 L441.67 455.21 L443.44 454.25 L445.20 453.30 L446.96 452.34 L448.72 451.38 L450.48 450.41 L452.24 449.45 L454.01 448.51 L455.81 447.63 L457.65 446.85 L459.52 446.12 L461.41 445.45 L463.32 444.85 L465.25 444.32 L467.20 443.87 L469.17 443.49 L471.15 443.19 L473.14 442.93 L475.13 442.71 L477.12 442.57 L479.12 442.56 L481.12 442.69 L483.11 442.93 L485.09 443.23 L487.06 443.59 L489.00 444.07 L490.91 444.67 L492.78 445.38 L494.62 446.17 L496.44 447.02 L498.22 447.94 L499.96 448.93 L501.65 450.00 L503.28 451.17 L504.84 452.42 L506.35 453.74 L507.81 455.11 L509.22 456.53 L510.59 457.99 L511.92 459.49 L513.21 461.03 L514.45 462.60 L515.67 464.19 L516.84 465.82 L517.98 467.47 L519.09 469.14 L520.17 470.83 L521.22 472.53 L522.26 474.25 L523.27 475.98 L524.26 477.72 L525.23 479.48 L526.19 481.24 L527.13 483.01 L528.06 484.78 L528.97 486.57 L529.87 488.37 L530.73 490.17 L531.59 491.99 L532.42 493.81 L533.25 495.64 L534.06 497.47 L534.87 499.30 L535.68 501.14 L536.48 502.98 L537.28 504.82 L538.09 506.65 L538.90 508.49 L539.72 510.31 L540.55 512.14 L541.39 513.96 L542.25 515.77 L543.11 517.58 L543.97 519.39 L544.85 521.20 L545.73 523.00 L546.62 524.79 L547.51 526.59 L548.40 528.39 L549.29 530.18 L550.17 531.98 L551.05 533.79 L551.93 535.59 L552.81 537.39 L553.69 539.19 L554.57 541.00 L555.45 542.79 L556.35 544.59 L557.25 546.38 L558.16 548.17 L559.08 549.95 L560.02 551.72 L560.96 553.49 L561.93 555.25 L562.90 557.00 L563.88 558.75 L564.86 560.50 L565.86 562.24 L566.86 563.98 L567.87 565.71 L568.89 567.43 L569.92 569.15 L570.96 570.87 L572.02 572.57 L573.09 574.26 L574.18 575.95 L575.28 577.62 L576.41 579.28 L577.56 580.92 L578.73 582.55 L579.92 584.16 L581.13 585.76 L582.35 587.35 L583.60 588.92 L584.88 590.46 L586.17 591.99 L587.49 593.50 L588.84 594.99 L590.20 596.46 L591.60 597.89 L593.03 599.30 L594.49 600.68 L595.97 602.02 L597.49 603.33 L599.04 604.61 L600.62 605.84 L602.23 607.04 L603.87 608.18 L605.56 609.26 L607.30 610.25 L609.09 611.14 L610.93 611.92 L612.82 612.59 L614.73 613.18 L616.67 613.71 L618.61 614.20 L620.57 614.62 L622.54 614.97 L624.53 615.25 L626.52 615.43 L628.52 615.52 L630.52 615.48 L632.51 615.32 L634.50 615.04 L636.47 614.69 L638.43 614.30 L640.40 613.90 L641.02 611.99 L641.63 610.08 L642.24 608.17 L642.85 606.26 L643.47 604.35 L644.09 602.44 L644.72 600.54 L645.36 598.64 L646.01 596.74 L646.66 594.84 L647.32 592.94 L647.98 591.05 L648.64 589.16 L649.31 587.27 L649.98 585.37 L650.65 583.48 L651.33 581.60 L652.01 579.71 L652.69 577.82 L653.37 575.93 L654.05 574.05 L654.74 572.16 L655.42 570.28 L656.11 568.39 L656.79 566.51 L657.48 564.62 L658.17 562.74 L658.86 560.85 L659.54 558.97 L660.23 557.08 L660.92 555.20 L661.61 553.32 L662.30 551.43 L662.99 549.55 L663.68 547.66 L664.37 545.78 L665.06 543.90 L665.76 542.01 L666.45 540.13 L667.14 538.25 L667.83 536.36 L668.52 534.48 L669.21 532.60 L669.90 530.71 L670.60 528.83 L671.29 526.95 L671.98 525.06 L672.67 523.18 L673.36 521.30 L674.06 519.42 L674.75 517.53 L675.44 515.65 L676.13 513.77 L676.82 511.88 L677.52 510.00 L678.21 508.12 L678.90 506.23 L679.59 504.35 L680.28 502.47 L680.98 500.58 L681.67 498.70 L682.36 496.82 L683.05 494.94 L683.74 493.05 L684.43 491.17 L685.12 489.29 L685.81 487.40 L686.50 485.52 L687.20 483.63 L687.89 481.75 L688.58 479.87 L689.26 477.98 L689.95 476.10 L690.64 474.21 L691.33 472.33 L692.02 470.45 L692.71 468.56 L693.39 466.68 L694.08 464.79 L694.77 462.91 L695.46 461.02 L696.14 459.14 L696.83 457.25 L697.51 455.37 L698.20 453.48 L698.89 451.60 L699.57 449.71 L700.26 447.82 L700.94 445.94 L701.63 444.05 L702.31 442.17 L703.00 440.28 L703.68 438.40 L704.37 436.51 L705.05 434.63 L705.74 432.74 L706.42 430.85 L707.11 428.97 L707.79 427.08 L708.47 425.20 L709.16 423.31 L709.84 421.42 L710.53 419.54 L711.21 417.65 L711.89 415.77 L712.58 413.88 L713.26 411.99 L713.95 410.11 L714.63 408.22 L715.32 406.34 L716.00 404.45 L716.69 402.57 L717.37 400.68 L718.06 398.79 L718.74 396.91 L719.43 395.02 L720.11 393.14 L720.80 391.25 L721.48 389.37 L722.17 387.48 L722.86 385.60 L723.54 383.71 L724.23 381.83 L724.92 379.94 L725.61 378.06 L726.30 376.18 L726.99 374.29 L727.68 372.41 L728.38 370.53 L729.07 368.64 L729.76 366.76 L730.46 364.88 L731.16 363.00 L731.86 361.12 L732.56 359.24 L733.26 357.36 L733.96 355.48 L734.66 353.60 L735.37 351.72 L736.07 349.84 L736.77 347.96 L737.47 346.08 L738.17 344.20 L738.86 342.32 L739.56 340.44 L740.25 338.56 L740.95 336.68 L741.65 334.79 L742.34 332.91 L743.04 331.03 L743.74 329.15 L744.43 327.27 L745.13 325.39 L745.83 323.51 L746.52 321.62 L747.22 319.74 L747.91 317.86 L748.61 315.98 L749.30 314.10 L750.00 312.21 L750.69 310.33 L751.38 308.45 L752.07 306.56 L752.76 304.68 L753.45 302.80 L754.14 300.91 L754.82 299.03 L755.51 297.14 L756.19 295.25 L756.87 293.37 L757.55 291.48 L758.23 289.59 L758.91 287.70 L759.58 285.81 L760.26 283.92 L760.93 282.03 L761.60 280.14 L762.27 278.25 L762.94 276.36 L763.61 274.47 L764.28 272.58 L764.95 270.69 L765.61 268.80 L766.28 266.90 L766.94 265.01 L767.60 263.11 L768.26 261.22 L768.92 259.32 L769.57 257.43 L770.23 255.53 L770.88 253.64 L771.53 251.74 L772.18 249.84 L772.83 247.94 L773.47 246.04 L774.10 244.14 L774.73 242.23 L775.35 240.32 L775.95 238.41 L776.55 236.49 L777.13 234.57 L777.71 232.65 L778.28 230.73 L778.85 228.81 L779.43 226.88 L780.00 224.96 L780.57 223.04 L781.14 221.11 L781.70 219.19 L782.26 217.26 L782.81 215.33 L783.36 213.40 L783.89 211.47 L784.41 209.53 L784.93 207.59 L785.43 205.65 L785.91 203.70 L786.38 201.75 L786.83 199.80 L787.27 197.84 L787.69 195.88 L788.09 193.91 L788.48 191.94 L788.86 189.97 L789.23 188.00 L789.59 186.03 L789.94 184.05 L790.28 182.08 L790.62 180.10 L790.96 178.12 L791.28 176.14 L791.61 174.16 L791.93 172.18 L792.25 170.20 L792.57 168.22 L792.89 166.24 L793.21 164.26 L793.52 162.28 L793.83 160.30 L794.12 158.31 L794.40 156.32 L794.64 154.33 L794.86 152.34 L795.05 150.34 L795.21 148.34 L795.36 146.34 L795.48 144.34 L795.59 142.34 L795.67 140.33 L795.73 138.33 L795.77 136.32 L795.81 134.32 L795.83 132.31 L795.85 130.30 L795.86 128.30 L795.88 126.29 L795.89 124.29 L795.90 122.28 L795.91 120.27 L795.92 118.27 L795.93 116.26 L795.93 114.25 L795.94 112.25 L795.94 110.24 L795.94 108.24 L795.94 106.23 L795.94 104.22 L795.94 102.22 L795.94 100.21 L795.94 98.21 L795.94 96.20 L795.94 94.19 L795.94 92.19 L795.94 90.18 L795.93 88.17 L795.93 86.17 L795.93 84.16 L795.92 82.16 L795.92 80.15 L795.92 78.14 L795.92 76.14 L795.91 74.13 L795.91 72.12 L795.91 70.12 L795.90 68.11 L795.90 66.11 L795.90 64.10" stroke="#000" stroke-width="3.65"/>
<path d="M795.90 64.10 L795.91 66.11 L795.93 68.11 L795.94 70.12 L795.96 72.12 L795.97 74.13 L795.98 76.13 L796.00 78.14 L796.01 80.15 L796.03 82.15 L796.04 84.16 L796.06 86.16 L796.08 88.17 L796.10 90.17 L796.12 92.18 L796.14 94.19 L796.17 96.19 L796.19 98.20 L796.22 100.20 L796.25 102.21 L796.29 104.21 L796.32 106.22 L796.35 108.23 L796.39 110.23 L796.43 112.24 L796.46 114.24 L796.50 116.25 L796.54 118.25 L796.58 120.26 L796.62 122.26 L796.66 124.27 L796.70 126.27 L796.73 128.28 L796.77 130.29 L796.81 132.29 L796.85 134.30 L796.89 136.30 L796.93 138.31 L796.96 140.31 L796.99 142.32 L797.02 144.32 L797.05 146.33 L797.07 148.34 L797.08 150.34 L797.09 152.35 L797.11 154.35 L797.13 156.36 L797.17 158.36 L797.23 160.37 L797.28 162.37 L797.34 164.38 L797.41 166.38 L797.47 168.39 L797.54 170.39 L797.62 172.40 L797.70 174.40 L797.80 176.41 L797.89 178.41 L798.00 180.41 L798.12 182.41 L798.25 184.42 L798.38 186.42 L798.53 188.42 L798.69 190.42 L798.85 192.42 L799.02 194.41 L799.20 196.41 L799.37 198.41 L799.55 200.41 L799.74 202.41 L799.92 204.40 L800.10 206.40 L800.28 208.40 L800.46 210.40 L800.64 212.39 L800.81 214.39 L801.00 216.39 L801.18 218.39 L801.37 220.38 L801.55 222.38 L801.74 224.38 L801.93 226.38 L802.12 228.37 L802.31 230.37 L802.49 232.37 L802.68 234.36 L802.86 236.36 L803.04 238.36 L803.21 240.36 L803.38 242.36 L803.55 244.35 L803.71 246.35 L803.87 248.35 L804.02 250.35 L804.17 252.35 L804.31 254.36 L804.44 256.36 L804.57 258.36 L804.70 260.36 L804.82 262.36 L804.94 264.36 L805.06 266.37 L805.18 268.37 L805.29 270.37 L805.41 272.37 L805.52 274.38 L805.63 276.38 L805.74 278.38 L805.86 280.38 L805.97 282.39 L806.09 284.39 L806.21 286.39 L806.33 288.39 L806.46 290.40 L806.59 292.40 L806.72 294.40 L806.85 296.40 L806.99 298.40 L807.13 300.40 L807.27 302.40 L807.41 304.40 L807.55 306.41 L807.69 308.41 L807.82 310.41 L807.96 312.41 L808.09 314.41 L808.22 316.41 L808.35 318.41 L808.48 320.42 L808.59 322.42 L808.71 324.42 L808.82 326.42 L808.92 328.43 L809.02 330.43 L809.12 332.43 L809.21 334.44 L809.30 336.44 L809.38 338.44 L809.47 340.45 L809.55 342.45 L809.63 344.46 L809.71 346.46 L809.79 348.47 L809.87 350.47 L809.95 352.47 L810.03 354.48 L810.11 356.48 L810.20 358.49 L810.29 360.49 L810.38 362.49 L810.49 364.50 L810.62 366.50 L810.78 368.50 L810.99 370.49 L811.25 372.48 L811.46 374.47 L811.61 376.47 L811.69 378.47 L811.75 380.48 L811.80 382.48 L811.86 384.49 L811.92 386.49 L811.97 388.50 L812.03 390.50 L812.06 392.51 L812.08 394.51 L812.08 396.52 L812.05 398.52 L811.99 400.53" stroke="#000" stroke-width="3.65" stroke-dasharray="9.60 13.35" stroke-dashoffset="0.38" />
<path d="M702.73 611.87 L702.09 613.78 L701.43 615.68 L700.75 617.57 L700.05 619.46 L699.35 621.35 L698.64 623.23 L697.94 625.11 L697.23 627.00 L696.52 628.88 L695.81 630.76 L695.10 632.65 L694.38 634.53 L693.66 636.40 L692.93 638.28 L692.19 640.15 L691.45 642.02 L690.71 643.89 L689.97 645.77 L689.24 647.64 L688.52 649.52 L687.82 651.40 L687.13 653.29 L686.45 655.19 L685.77 657.08 L685.07 658.97 L684.36 660.85 L683.63 662.72 L682.89 664.60 L682.15 666.47 L681.41 668.34 L680.67 670.21 L679.94 672.09 L679.22 673.96 L678.50 675.84 L677.79 677.73 L677.08 679.61 L676.38 681.49 L675.67 683.38 L674.96 685.26 L674.25 687.14 L673.55 689.03 L672.85 690.92 L672.16 692.81 L671.47 694.70 L670.80 696.59 L670.12 698.49 L669.44 700.38 L668.74 702.27 L668.02 704.15 L667.28 706.02 L666.54 707.89 L665.80 709.76 L665.08 711.64 L664.37 713.52 L663.70 715.42 L663.04 717.32 L662.40 719.23 L661.76 721.13 L661.12 723.04 L660.47 724.95 L659.81 726.85 L659.15 728.75 L658.49 730.65 L657.83 732.55 L657.50 733.50" stroke="#000" stroke-width="3.65" stroke-dasharray="9.60 13.45" stroke-dashoffset="17.01" />
<path d="M811.10 407.52 L811.10 414.07 M810.86 423.62 L810.34 430.18 M809.45 440.29 L808.15 446.81 M805.32 455.03 L804.08 458.67 M800.74 466.71 L797.06 471.19 M790.47 479.15 L785.43 484.65 M778.47 491.84 L773.03 497.76 M765.74 505.82 L759.76 512.08 M752.25 520.53 L746.45 526.67 M739.32 536.57 L734.18 543.53 M728.19 554.68 L723.31 563.12 M718.38 575.43 L713.92 584.27 M709.36 596.37 L705.34 605.43" stroke="#000" stroke-width="3.65"/>
<path d="M552.70 9.00 L552.40 10.00 L552.10 11.00 L551.80 12.00 L551.50 13.00 L551.20 14.00 L550.90 15.00 L550.60 16.00 L550.30 17.00 L550.00 18.00 L549.70 19.00 L549.40 20.00 L549.10 21.00 L548.80 22.00 L548.50 23.00 L548.20 24.00 L547.90 25.00 L547.60 26.00 L547.30 27.00 L547.00 28.00 L546.70 29.00 L546.40 30.00 L546.10 31.00 L545.80 32.00 L545.50 33.00 L545.20 34.00 L544.90 35.00 L544.60 36.00 L544.30 37.00 L544.00 38.00 L543.70 39.00 L543.40 40.00 L543.10 41.00 L542.80 42.00 L542.50 43.00 L542.20 44.00 L541.90 45.00 L541.60 46.00 L541.30 47.00 L541.01 48.00 L540.71 49.00 L540.41 50.00 L540.11 51.00 L539.81 52.00 L539.51 53.00 L539.21 54.00 L538.91 55.00 L538.61 56.00 L538.31 57.00 L538.01 58.00 L537.71 59.00 L537.41 60.00 L537.11 61.00 L536.81 62.00 L536.51 63.00 L536.21 64.00 L535.91 65.00 L535.61 66.00 L535.31 67.00 L535.01 68.00 L534.71 69.00 L534.41 70.00 L534.11 71.00 L533.81 72.00 L533.51 73.00 L533.21 74.00 L532.91 75.00 L532.61 76.00 L532.31 77.00 L532.01 78.00 L531.71 79.00 L531.41 80.00 L531.11 81.00 L530.81 82.00 L530.51 83.00 L530.21 84.00 L529.91 85.00 L529.61 86.00 L529.31 87.00 L529.01 88.00 L528.71 89.00 L528.41 90.00 L528.11 91.00 L527.81 92.00 L527.51 93.00 L527.21 94.00 L526.91 95.00 L526.61 96.00 L526.31 97.00 L526.02 98.00 L525.72 99.00 L525.42 100.00 L525.12 101.00 L524.82 102.00 L524.52 103.00 L524.22 104.00 L523.92 105.00 L523.62 106.00 L523.32 107.00 L523.02 108.00 L522.72 109.00 L522.42 110.00 L522.12 111.00 L521.82 112.00 L521.52 113.00 L521.22 114.00 L520.92 115.00 L520.62 116.00 L520.32 117.00 L520.02 118.00 L519.72 119.00 L519.42 120.00 L519.12 121.00 L518.82 122.00 L518.52 123.00 L518.22 124.00 L517.92 125.00 L517.62 126.00 L517.32 127.00 L517.02 128.00 L516.72 129.00 L516.42 130.00 L516.12 131.00 L515.82 132.00 L515.52 133.00 L515.22 134.00 L514.92 135.00 L514.62 136.00 L514.32 137.00 L514.02 138.00 L513.72 139.00 L513.42 140.00 L513.12 141.00 L512.82 142.00 L512.52 143.00 L512.22 144.00 L511.92 145.00 L511.62 146.00 L511.32 147.00 L511.03 148.00 L510.73 149.00 L510.43 150.00 L510.13 151.00 L509.83 152.00 L509.53 153.00 L509.23 154.00 L508.93 155.00 L508.63 156.00 L508.33 157.00 L508.03 158.00 L507.73 159.00 L507.43 160.00 L507.13 161.00 L506.83 162.00 L506.53 163.00 L506.23 164.00 L505.93 165.00 L505.63 166.00 L505.33 167.00 L505.03 168.00 L504.73 169.00 L504.43 170.00 L504.13 171.00 L503.83 172.00 L503.53 173.00 L503.23 174.00 L502.93 175.00 L502.63 176.00 L502.33 177.00 L502.03 178.00 L501.73 179.00 L501.43 180.00 L501.13 181.00 L500.83 182.00 L500.53 183.00 L500.23 184.00 L499.93 185.00 L499.63 186.00 L499.33 187.00 L499.03 188.00 L498.73 189.00 L498.43 190.00 L498.13 191.00 L497.83 192.00 L497.53 193.00 L497.23 194.00 L496.93 195.00 L496.63 196.00 L496.33 197.00 L496.04 198.00 L495.74 199.00 L495.44 200.00 L495.14 201.00 L494.84 202.00 L494.54 203.00 L494.24 204.00 L493.94 205.00 L493.64 206.00 L493.34 207.00 L493.04 208.00 L492.74 209.00 L492.44 210.00 L492.14 211.00 L491.84 212.00 L491.54 213.00 L491.24 214.00 L490.94 215.00 L490.64 216.00 L490.34 217.00 L490.04 218.00 L489.74 219.00 L489.44 220.00 L489.14 221.00 L488.84 222.00 L488.54 223.00 L488.24 224.00 L487.94 225.00 L487.64 226.00 L487.34 227.00 L487.04 228.00 L486.74 229.00 L486.44 230.00 L486.14 231.00 L485.84 232.00 L485.54 233.00 L485.24 234.00 L484.94 235.00 L484.64 236.00 L484.34 237.00 L484.04 238.00 L483.74 239.00 L483.44 240.00 L483.14 241.00 L482.84 242.00 L482.54 243.00 L482.24 244.00 L481.94 245.00 L481.64 246.00 L481.34 247.00 L481.05 248.00 L480.75 249.00 L480.45 250.00 L480.15 251.00 L479.85 252.00 L479.55 253.00 L479.25 254.00 L478.95 255.00 L478.65 256.00 L478.35 257.00 L478.05 258.00 L477.75 259.00 L477.45 260.00 L477.15 261.00 L476.85 262.00 L476.55 263.00 L476.25 264.00 L475.95 265.00 L475.65 266.00 L475.35 267.00 L475.05 268.00 L474.75 269.00 L474.45 270.00 L474.15 271.00 L473.85 272.00 L473.55 273.00 L473.25 274.00 L472.95 275.00 L472.65 276.00 L472.35 277.00 L472.05 278.00 L471.75 279.00 L471.45 280.00 L471.15 281.00 L470.85 282.00 L470.55 283.00 L470.25 284.00 L469.95 285.00 L469.65 286.00 L469.35 287.00 L469.05 288.00 L468.75 289.00 L468.45 290.00 L468.15 291.00 L467.85 292.00 L467.55 293.00 L467.25 294.00 L466.95 295.00 L466.65 296.00 L466.35 297.00 L466.06 298.00 L465.76 299.00 L465.46 300.00 L465.16 301.00 L464.86 302.00 L464.56 303.00 L464.26 304.00 L463.96 305.00 L463.66 306.00 L463.36 307.00 L463.06 308.00 L462.76 309.00 L462.46 310.00 L462.16 311.00 L461.86 312.00 L461.56 313.00 L461.26 314.00 L460.96 315.00 L460.66 316.00 L460.36 317.00 L460.06 318.00 L459.76 319.00 L459.46 320.00 L459.16 321.00 L458.86 322.00 L458.56 323.00 L458.26 324.00 L457.96 325.00 L457.66 326.00 L457.36 327.00 L457.06 328.00 L456.76 329.00 L456.46 330.00 L456.16 331.00 L455.86 332.00 L455.56 333.00 L455.26 334.00 L454.96 335.00 L454.66 336.00 L454.36 337.00 L454.06 338.00 L453.76 339.00 L453.46 340.00 L453.16 341.00 L452.86 342.00 L452.56 343.00 L452.26 344.00 L451.96 345.00 L451.66 346.00 L451.36 347.00 L451.07 348.00 L450.77 349.00 L450.47 350.00 L450.17 351.00 L449.87 352.00 L449.57 353.00 L449.27 354.00 L448.97 355.00 L448.67 356.00 L448.37 357.00 L448.07 358.00 L447.77 359.00 L447.47 360.00 L447.17 361.00 L446.87 362.00 L446.57 363.00 L446.27 364.00 L445.97 365.00 L445.67 366.00 L445.37 367.00 L445.07 368.00 L444.77 369.00 L444.47 370.00 L444.17 371.00 L443.87 372.00 L443.57 373.00 L443.27 374.00 L442.97 375.00 L442.67 376.00 L442.37 377.00 L442.07 378.00 L441.77 379.00 L441.47 380.00 L441.17 381.00 L440.87 382.00 L440.57 383.00 L440.27 384.00 L439.97 385.00 L439.67 386.00 L439.37 387.00 L439.07 388.00 L438.77 389.00 L438.47 390.00 L438.17 391.00 L437.87 392.00 L437.57 393.00 L437.27 394.00 L436.97 395.00 L436.67 396.00 L436.37 397.00 L436.08 398.00 L435.78 399.00 L435.48 400.00 L435.18 401.00 L434.88 402.00 L434.58 403.00 L434.28 404.00 L433.98 405.00 L433.68 406.00 L433.38 407.00 L433.08 408.00 L432.78 409.00 L432.48 410.00 L432.18 411.00 L431.88 412.00 L431.58 413.00 L431.28 414.00 L430.98 415.00 L430.68 416.00 L430.38 417.00 L430.08 418.00 L429.78 419.00 L429.48 420.00 L429.18 421.00 L428.88 422.00 L428.58 423.00 L428.28 424.00 L427.98 425.00 L427.68 426.00 L427.38 427.00 L427.08 428.00 L426.78 429.00 L426.48 430.00 L426.18 431.00 L425.88 432.00 L425.58 433.00 L425.28 434.00 L424.98 435.00 L424.68 436.00 L424.38 437.00 L424.08 438.00 L423.78 439.00 L423.48 440.00 L423.18 441.00 L422.88 442.00 L422.58 443.00 L422.28 444.00 L421.98 445.00 L421.68 446.00 L421.38 447.00 L421.09 448.00 L420.79 449.00 L420.49 450.00 L420.19 451.00 L419.89 452.00 L419.59 453.00 L419.29 454.00 L418.99 455.00 L418.69 456.00 L418.39 457.00 L418.09 458.00 L417.79 459.00 L417.49 460.00 L417.19 461.00 L416.89 462.00 L416.59 463.00 L416.29 464.00 L415.99 465.00 L415.69 466.00 L415.39 467.00 L415.09 468.00 L414.79 469.00 L414.49 470.00 L414.19 471.00 L413.89 472.00 L413.59 473.00 L413.29 474.00 L412.99 475.00 L412.69 476.00 L412.39 477.00 L412.09 478.00 L411.79 479.00 L411.49 480.00 L411.19 481.00 L410.89 482.00 L410.59 483.00 L410.29 484.00 L409.99 485.00 L409.69 486.00 L409.39 487.00 L409.09 488.00 L408.79 489.00 L408.49 490.00 L408.19 491.00 L407.89 492.00 L407.59 493.00 L407.29 494.00 L406.99 495.00 L406.69 496.00 L406.39 497.00 L406.10 498.00 L405.80 499.00 L405.50 500.00 L405.20 501.00 L404.90 502.00 L404.60 503.00 L404.30 504.00 L404.00 505.00 L403.70 506.00 L403.40 507.00 L403.10 508.00 L402.80 509.00 L402.50 510.00 L402.20 511.00 L401.90 512.00 L401.60 513.00 L401.30 514.00 L401.00 515.00 L400.70 516.00 L400.40 517.00 L400.10 518.00 L399.80 519.00 L399.50 520.00 L399.20 521.00 L398.90 522.00 L398.60 523.00 L398.30 524.00 L398.00 525.00 L397.70 526.00 L397.40 527.00 L397.10 528.00 L396.80 529.00 L396.50 530.00 L396.20 531.00 L395.90 532.00 L395.60 533.00 L395.30 534.00 L395.00 535.00 L394.70 536.00 L394.40 537.00 L394.10 538.00 L393.80 539.00 L393.50 540.00 L393.20 541.00 L392.90 542.00 L392.60 543.00 L392.30 544.00 L392.00 545.00 L391.70 546.00 L391.40 547.00 L391.11 548.00 L390.81 549.00 L390.51 550.00 L390.21 551.00 L389.91 552.00 L389.61 553.00 L389.31 554.00 L389.01 555.00 L388.71 556.00 L388.41 557.00 L388.11 558.00 L387.81 559.00 L387.51 560.00 L387.21 561.00 L386.91 562.00 L386.61 563.00 L386.31 564.00 L386.01 565.00 L385.71 566.00 L385.41 567.00 L385.11 568.00 L384.81 569.00 L384.51 570.00 L384.21 571.00 L383.91 572.00 L383.61 573.00 L383.31 574.00 L383.01 575.00 L382.71 576.00 L382.41 577.00 L382.11 578.00 L381.81 579.00 L381.51 580.00 L381.21 581.00 L380.91 582.00 L380.61 583.00 L380.31 584.00 L380.01 585.00 L379.71 586.00 L379.41 587.00 L379.11 588.00 L378.81 589.00 L378.51 590.00 L378.21 591.00 L377.91 592.00 L377.61 593.00 L377.31 594.00 L377.01 595.00 L376.71 596.00 L376.41 597.00 L376.12 598.00 L375.82 599.00 L375.52 600.00 L375.22 601.00 L374.92 602.00 L374.62 603.00 L374.32 604.00 L374.02 605.00 L373.72 606.00 L373.42 607.00 L373.12 608.00 L372.82 609.00 L372.52 610.00 L372.22 611.00 L371.92 612.00 L371.62 613.00 L371.32 614.00 L371.02 615.00 L370.72 616.00 L370.42 617.00 L370.12 618.00 L369.82 619.00 L369.52 620.00 L369.22 621.00 L368.92 622.00 L368.62 623.00 L368.32 624.00 L368.02 625.00 L367.72 626.00 L367.42 627.00 L367.12 628.00 L366.82 629.00 L366.52 630.00 L366.22 631.00 L365.92 632.00 L365.62 633.00 L365.32 634.00 L365.02 635.00 L364.72 636.00 L364.42 637.00 L364.12 638.00 L363.82 639.00 L363.52 640.00 L363.22 641.00 L362.92 642.00 L362.62 643.00 L362.32 644.00 L362.02 645.00 L361.72 646.00 L361.42 647.00 L361.13 648.00 L360.83 649.00 L360.53 650.00 L360.23 651.00 L359.93 652.00 L359.63 653.00 L359.33 654.00 L359.03 655.00 L358.73 656.00 L358.43 657.00 L358.13 658.00 L357.83 659.00 L357.53 660.00 L357.23 661.00 L356.93 662.00 L356.63 663.00 L356.33 664.00 L356.03 665.00 L355.73 666.00 L355.43 667.00 L355.13 668.00 L354.83 669.00 L354.53 670.00 L354.23 671.00 L353.93 672.00 L353.63 673.00 L353.33 674.00 L353.03 675.00 L352.73 676.00 L352.43 677.00 L352.13 678.00 L351.83 679.00 L351.53 680.00 L351.23 681.00 L350.93 682.00 L350.63 683.00 L350.33 684.00 L350.03 685.00 L349.73 686.00 L349.43 687.00 L349.13 688.00 L348.83 689.00 L348.53 690.00 L348.23 691.00 L347.93 692.00 L347.63 693.00 L347.33 694.00 L347.03 695.00 L346.73 696.00 L346.43 697.00 L346.14 698.00 L345.84 699.00 L345.54 700.00 L345.24 701.00 L344.94 702.00 L344.64 703.00 L344.34 704.00 L344.04 705.00 L343.74 706.00 L343.44 707.00 L343.14 708.00 L342.84 709.00 L342.54 710.00 L342.24 711.00 L341.94 712.00 L341.64 713.00 L341.34 714.00 L341.04 715.00 L340.74 716.00 L340.44 717.00 L340.14 718.00 L339.84 719.00 L339.54 720.00 L339.24 721.00 L338.94 722.00 L338.64 723.00 L338.34 724.00 L338.04 725.00 L337.74 726.00 L337.44 727.00 L337.14 728.00 L336.84 729.00 L336.54 730.00 L336.24 731.00 L335.94 732.00 L335.64 733.00 L335.34 734.00 L335.04 735.00 L334.74 736.00 L334.44 737.00 L334.14 738.00 L333.84 739.00 L333.54 740.00" stroke="#ADD8E6" stroke-width="3.5" stroke-dasharray="2.3 9.280" stroke-dashoffset="6.80"/>
<path d="M369.20 224.80 L370.77 226.05 L372.33 227.30 L373.89 228.56 L375.46 229.81 L377.03 231.05 L378.61 232.29 L380.20 233.51 L381.80 234.71 L383.42 235.89 L385.06 237.03 L386.72 238.15 L388.41 239.23 L390.12 240.28 L391.84 241.30 L393.58 242.30 L395.33 243.27 L397.09 244.22 L398.86 245.16 L400.64 246.08 L402.43 246.99 L404.22 247.89 L406.02 248.77 L407.83 249.63 L409.64 250.48 L411.47 251.30 L413.30 252.11 L415.14 252.91 L416.98 253.69 L418.83 254.46 L420.68 255.23 L422.54 255.99 L424.39 256.75 L426.25 257.51 L428.10 258.26 L429.96 259.00 L431.83 259.74 L433.70 260.46 L435.57 261.18 L437.45 261.87 L439.33 262.56 L441.22 263.23 L443.11 263.88 L445.01 264.53 L446.91 265.16 L448.81 265.79 L450.72 266.42 L452.62 267.03 L454.53 267.64 L456.45 268.24 L458.36 268.83 L460.28 269.41 L462.20 269.98 L464.12 270.54 L466.05 271.08 L467.98 271.61 L469.92 272.12 L471.86 272.62 L473.81 273.10 L475.76 273.55 L477.71 273.99 L479.67 274.41 L481.64 274.81 L483.60 275.20 L485.57 275.58 L487.54 275.94 L489.51 276.29 L491.49 276.63 L493.46 276.96 L495.44 277.29 L497.42 277.61 L499.40 277.92 L501.38 278.23 L503.36 278.53 L505.34 278.82 L507.33 279.10 L509.31 279.37 L511.30 279.63 L513.29 279.89 L515.27 280.13 L517.26 280.37 L519.25 280.60 L521.24 280.84 L523.23 281.06 L525.23 281.29 L527.22 281.51 L529.21 281.73 L531.20 281.95 L533.19 282.17 L535.18 282.39 L537.18 282.60 L539.17 282.81 L541.16 283.01 L543.16 283.22 L545.15 283.42 L547.14 283.61 L549.14 283.81 L551.13 284.00 L553.13 284.19 L555.12 284.38 L557.12 284.57 L559.11 284.75 L561.11 284.93 L563.10 285.10 L565.10 285.27 L567.10 285.44 L569.10 285.59 L571.09 285.75 L573.09 285.91 L575.09 286.07 L577.09 286.23 L579.08 286.40 L581.08 286.57 L583.07 286.76 L585.07 286.95 L587.06 287.16 L589.05 287.38 L591.04 287.61 L593.03 287.86 L595.02 288.11 L597.01 288.38 L598.99 288.65 L600.98 288.92 L602.96 289.20 L604.94 289.49 L606.93 289.78 L608.91 290.07 L610.89 290.36 L612.87 290.64 L614.86 290.93 L616.84 291.20 L618.83 291.47 L620.82 291.72 L622.80 291.96 L624.79 292.23 L626.77 292.53 L628.74 292.89 L630.70 293.28 L632.66 293.70 L634.62 294.13 L636.57 294.58 L638.52 295.04 L640.47 295.51 L642.41 295.99 L644.36 296.48 L646.30 296.99 L648.23 297.50 L650.16 298.03 L652.09 298.58 L654.02 299.14 L655.94 299.71 L657.85 300.30 L659.76 300.91 L661.67 301.53 L663.57 302.16 L665.46 302.80 L667.36 303.46 L669.25 304.13 L671.13 304.81 L673.01 305.51 L674.88 306.22 L676.75 306.95 L678.61 307.68 L680.47 308.43 L682.32 309.20 L684.17 309.97 L686.01 310.76 L687.85 311.57 L689.68 312.38 L691.50 313.20 L693.32 314.04 L695.14 314.89 L696.95 315.75 L698.76 316.62 L700.56 317.50 L702.35 318.39 L704.14 319.29 L705.92 320.21 L707.70 321.13 L709.47 322.07 L711.24 323.02 L713.00 323.97 L714.76 324.93 L716.51 325.90 L718.26 326.88 L720.00 327.87 L721.74 328.86 L723.48 329.86 L725.20 330.88 L726.92 331.90 L728.63 332.95 L730.32 334.03 L731.99 335.13 L733.64 336.27 L735.27 337.44 L736.88 338.63 L738.49 339.83 L740.09 341.03 L741.70 342.23 L743.30 343.43 L744.89 344.64 L746.47 345.87 L748.03 347.14 L749.55 348.43 L751.04 349.77 L752.50 351.14 L753.93 352.54 L755.33 353.97 L756.71 355.43 L758.06 356.91 L759.39 358.41 L760.69 359.93 L761.97 361.47 L763.23 363.03 L764.45 364.61 L765.66 366.22 L766.83 367.84 L767.98 369.48 L769.12 371.13 L770.23 372.80 L771.32 374.48 L772.40 376.17 L773.47 377.86 L774.52 379.56 L775.58 381.27 L776.63 382.97 L777.67 384.69 L778.70 386.40 L779.72 388.13 L780.73 389.86 L781.70 391.61 L782.66 393.37 L783.58 395.15 L784.46 396.95 L785.32 398.76 L786.15 400.58 L786.95 402.42 L787.72 404.27 L788.48 406.12 L789.22 407.98 L789.94 409.85 L790.65 411.73 L791.33 413.61 L792.00 415.50 L792.66 417.39 L793.30 419.29 L793.92 421.19 L794.53 423.10 L795.12 425.02 L795.69 426.94 L796.24 428.86 L796.78 430.79 L797.29 432.73 L797.79 434.67 L798.27 436.62 L798.74 438.56 L799.21 440.51 L799.66 442.46 L800.11 444.42 L800.56 446.37 L801.00 448.33 L801.45 450.28 L801.89 452.23 L802.34 454.19 L802.79 456.14 L803.25 458.09 L803.70 460.04 L804.16 461.99 L804.62 463.94 L805.07 465.89 L805.52 467.85 L805.97 469.80 L806.42 471.75 L806.87 473.71 L807.32 475.66 L807.77 477.61 L808.22 479.56 L808.68 481.51 L809.14 483.46 L809.60 485.41 L810.07 487.36 L810.54 489.31 L811.02 491.26 L811.50 493.20 L811.98 495.15 L812.46 497.09 L812.95 499.03 L813.44 500.98 L813.93 502.92 L814.42 504.86 L814.91 506.80 L815.40 508.75 L815.89 510.69 L816.38 512.63 L816.87 514.58 L817.35 516.52 L817.83 518.47 L818.31 520.41 L818.79 522.36 L819.27 524.30 L819.75 526.25 L820.22 528.20 L820.70 530.14 L821.17 532.09 L821.65 534.04 L822.13 535.98 L822.61 537.93 L823.10 539.87 L823.59 541.81 L824.09 543.75 L824.60 545.69 L825.13 547.62 L825.66 549.55 L826.22 551.48 L826.79 553.40 L827.38 555.32 L827.98 557.23 L828.58 559.14 L829.19 561.05 L829.50 562.00" stroke="#800080" stroke-width="3.5" stroke-dasharray="2.45 9.05" stroke-dashoffset="-1.00"/>
<path d="M228.00 367.46 L228.84 367.52 L229.68 367.58 L230.52 367.64 L231.36 367.70 L232.20 367.76 L233.04 367.82 L233.88 367.88 L234.72 367.94 L235.56 368.00 L236.40 368.06 L237.24 368.12 L238.08 368.18 L238.92 368.24 L239.76 368.30 L240.60 368.36 L241.44 368.42 L242.28 368.48 L243.12 368.54 L243.96 368.60 L244.80 368.66 L245.64 368.72 L246.48 368.78 L247.32 368.84 L248.16 368.90 L249.00 368.96 L249.84 369.02 L250.68 369.08 L251.52 369.14 L252.36 369.20 L253.20 369.26 L254.04 369.32 L254.88 369.38 L255.72 369.44 L256.56 369.50 L257.40 369.56 L258.24 369.62 L259.08 369.69 L259.92 369.75 L260.76 369.81 L261.60 369.87 L262.44 369.93 L263.28 369.99 L264.12 370.05 L264.96 370.11 L265.80 370.17 L266.64 370.23 L267.48 370.29 L268.32 370.35 L269.16 370.41 L270.00 370.47 L270.84 370.53 L271.68 370.59 L272.52 370.65 L273.36 370.71 L274.20 370.77 L275.04 370.83 L275.88 370.89 L276.72 370.95 L277.56 371.01 L278.40 371.07 L279.24 371.13 L280.08 371.19 L280.92 371.25 L281.76 371.31 L282.60 371.37 L283.44 371.43 L284.28 371.49 L285.12 371.55 L285.96 371.61 L286.80 371.67 L287.64 371.73 L288.48 371.79 L289.32 371.85 L290.16 371.91 L291.00 371.97 L291.84 372.03 L292.68 372.09 L293.52 372.15 L294.36 372.21 L295.20 372.27 L296.04 372.34 L296.88 372.40 L297.72 372.46 L298.56 372.52 L299.40 372.58 L300.24 372.64 L301.08 372.70 L301.92 372.76 L302.76 372.82 L303.60 372.88 L304.44 372.94 L305.28 373.00 L306.12 373.06 L306.96 373.12 L307.80 373.18 L308.64 373.24 L309.48 373.30 L310.32 373.36 L311.16 373.42 L312.00 373.48 L312.84 373.54 L313.68 373.60 L314.52 373.66 L315.36 373.72 L316.20 373.78 L317.04 373.84 L317.88 373.90 L318.72 373.96 L319.56 374.02 L320.40 374.08 L321.24 374.14 L322.08 374.20 L322.92 374.26 L323.76 374.32 L324.60 374.38 L325.44 374.44 L326.28 374.50 L327.12 374.56 L327.96 374.62 L328.80 374.68 L329.64 374.74 L330.48 374.80 L331.32 374.86 L332.16 374.92 L333.00 374.99 L333.84 375.05 L334.68 375.11 L335.52 375.17 L336.36 375.23 L337.20 375.29 L338.04 375.35 L338.88 375.41 L339.72 375.47 L340.56 375.53 L341.40 375.59 L342.24 375.65 L343.08 375.71 L343.92 375.77 L344.76 375.83 L345.60 375.89 L346.44 375.95 L347.28 376.01 L348.12 376.07 L348.96 376.13 L349.80 376.19 L350.64 376.25 L351.48 376.31 L352.32 376.37 L353.16 376.43 L354.00 376.49 L354.84 376.55 L355.68 376.61 L356.52 376.67 L357.36 376.73 L358.20 376.79 L359.04 376.85 L359.88 376.91 L360.72 376.97 L361.56 377.03 L362.40 377.09 L363.24 377.15 L364.08 377.21 L364.92 377.27 L365.76 377.33 L366.60 377.39 L367.44 377.45 L368.28 377.51 L369.12 377.57 L369.96 377.64 L370.80 377.70 L371.64 377.76 L372.48 377.82 L373.32 377.88 L374.16 377.94 L375.00 378.00 L375.84 378.06 L376.68 378.12 L377.52 378.18 L378.36 378.24 L379.20 378.30 L380.04 378.36 L380.88 378.42 L381.72 378.48 L382.56 378.54 L383.40 378.60 L384.24 378.66 L385.08 378.72 L385.92 378.78 L386.76 378.84 L387.60 378.90 L388.44 378.96 L389.28 379.02 L390.12 379.08 L390.96 379.14 L391.80 379.20 L392.64 379.26 L393.48 379.32 L394.32 379.38 L395.16 379.44 L396.00 379.50 L396.84 379.56 L397.68 379.62 L398.52 379.68 L399.36 379.74 L400.20 379.80 L401.04 379.86 L401.88 379.92 L402.72 379.98 L403.56 380.04 L404.40 380.10 L405.24 380.16 L406.08 380.22 L406.92 380.29 L407.76 380.35 L408.60 380.41 L409.44 380.47 L410.28 380.53 L411.12 380.59 L411.96 380.65 L412.80 380.71 L413.64 380.77 L414.48 380.83 L415.32 380.89 L416.16 380.95 L417.00 381.01 L417.84 381.07 L418.68 381.13 L419.52 381.19 L420.36 381.25 L421.20 381.31 L422.04 381.37 L422.88 381.43 L423.72 381.49 L424.56 381.55 L425.40 381.61 L426.24 381.67 L427.08 381.73 L427.92 381.79 L428.76 381.85 L429.60 381.91 L430.44 381.97 L431.28 382.03 L432.12 382.09 L432.96 382.15 L433.80 382.21 L434.64 382.27 L435.48 382.33 L436.32 382.39 L437.16 382.45 L438.00 382.51 L438.84 382.57 L439.68 382.63 L440.52 382.69 L441.36 382.75 L442.20 382.81 L443.04 382.87 L443.88 382.94 L444.72 383.00 L445.56 383.06 L446.40 383.12 L447.24 383.18 L448.08 383.24 L448.92 383.30 L449.76 383.36 L450.60 383.42 L451.44 383.48 L452.28 383.54 L453.12 383.60 L453.96 383.66 L454.80 383.72 L455.64 383.78 L456.48 383.84 L457.32 383.90 L458.16 383.96 L459.00 384.02 L459.84 384.08 L460.68 384.14 L461.52 384.20 L462.36 384.26 L463.20 384.32 L464.04 384.38 L464.88 384.44 L465.72 384.50 L466.56 384.56 L467.40 384.62 L468.24 384.68 L469.08 384.74 L469.92 384.80 L470.76 384.86 L471.60 384.92 L472.44 384.98 L473.28 385.04 L474.12 385.10 L474.96 385.16 L475.80 385.22 L476.64 385.28 L477.48 385.34 L478.32 385.40 L479.16 385.46 L480.00 385.53" stroke="#0000FF" stroke-width="3.65" stroke-dasharray="11.35 11.65" stroke-dashoffset="18.79" />
</g>
<path d="M196.5 365.4 L228 353.0 L221.5 366.4 L227.3 378.0 Z" fill="#0000FF"/>
<path d="M499.5 386.0 L468.3 398.6 L475.4 385.6 L467.9 373.4 Z" fill="#0000FF"/>
<path d="M208.9 481.8 L197.6 501.3 L220.2 501.3 Z" fill="#FED976"/>
<path d="M256.3 535.6 L245.0 555.1 L267.6 555.1 Z" fill="#FEA440"/>
<path d="M197.3 370.3 L186.0 389.8 L208.6 389.8 Z" fill="#F85A28"/>
<path d="M279.8 495.9 L268.5 515.4 L291.1 515.4 Z" fill="#BD0026"/>
<path d="M279.6 571.3 L268.3 590.8 L290.9 590.8 Z" fill="#000000"/>
<circle cx="543.5" cy="504.3" r="9.85" fill="#FED976"/>
<circle cx="589.4" cy="588.9" r="9.85" fill="#FEA440"/>
<circle cx="635.6" cy="596.3" r="9.85" fill="#F85A28"/>
<circle cx="661.3" cy="584.7" r="9.85" fill="#BD0026"/>
<circle cx="692.0" cy="471.1" r="9.85" fill="#000000"/>
<g stroke="#000" fill="none">
<rect x="100.9" y="2.5" width="726.1" height="726.9" stroke-width="3.05"/>
<path d="M161.4 2.5 v22.4 M161.4 729.4 v-22.4 M262.3 2.5 v22.4 M262.3 729.4 v-22.4 M363.1 2.5 v22.4 M363.1 729.4 v-22.4 M464.0 2.5 v22.4 M464.0 729.4 v-22.4 M564.8 2.5 v22.4 M564.8 729.4 v-22.4 M665.6 2.5 v22.4 M665.6 729.4 v-22.4 M766.5 2.5 v22.4 M766.5 729.4 v-22.4 M100.9 668.7 h22.4 M827.0 668.7 h-22.4 M100.9 567.9 h22.4 M827.0 567.9 h-22.4 M100.9 467.0 h22.4 M827.0 467.0 h-22.4 M100.9 366.2 h22.4 M827.0 366.2 h-22.4 M100.9 265.3 h22.4 M827.0 265.3 h-22.4 M100.9 164.5 h22.4 M827.0 164.5 h-22.4 M100.9 63.6 h22.4 M827.0 63.6 h-22.4" stroke-width="2.8"/>
<path d="M111.0 2.5 v11.7 M111.0 729.4 v-11.7 M136.2 2.5 v11.7 M136.2 729.4 v-11.7 M186.6 2.5 v11.7 M186.6 729.4 v-11.7 M211.8 2.5 v11.7 M211.8 729.4 v-11.7 M237.0 2.5 v11.7 M237.0 729.4 v-11.7 M287.5 2.5 v11.7 M287.5 729.4 v-11.7 M312.7 2.5 v11.7 M312.7 729.4 v-11.7 M337.9 2.5 v11.7 M337.9 729.4 v-11.7 M388.3 2.5 v11.7 M388.3 729.4 v-11.7 M413.5 2.5 v11.7 M413.5 729.4 v-11.7 M438.7 2.5 v11.7 M438.7 729.4 v-11.7 M489.2 2.5 v11.7 M489.2 729.4 v-11.7 M514.4 2.5 v11.7 M514.4 729.4 v-11.7 M539.6 2.5 v11.7 M539.6 729.4 v-11.7 M590.0 2.5 v11.7 M590.0 729.4 v-11.7 M615.2 2.5 v11.7 M615.2 729.4 v-11.7 M640.4 2.5 v11.7 M640.4 729.4 v-11.7 M690.9 2.5 v11.7 M690.9 729.4 v-11.7 M716.1 2.5 v11.7 M716.1 729.4 v-11.7 M741.3 2.5 v11.7 M741.3 729.4 v-11.7 M791.7 2.5 v11.7 M791.7 729.4 v-11.7 M816.9 2.5 v11.7 M816.9 729.4 v-11.7 M100.9 719.1 h11.7 M827.0 719.1 h-11.7 M100.9 693.9 h11.7 M827.0 693.9 h-11.7 M100.9 643.5 h11.7 M827.0 643.5 h-11.7 M100.9 618.3 h11.7 M827.0 618.3 h-11.7 M100.9 593.1 h11.7 M827.0 593.1 h-11.7 M100.9 542.6 h11.7 M827.0 542.6 h-11.7 M100.9 517.4 h11.7 M827.0 517.4 h-11.7 M100.9 492.2 h11.7 M827.0 492.2 h-11.7 M100.9 441.8 h11.7 M827.0 441.8 h-11.7 M100.9 416.6 h11.7 M827.0 416.6 h-11.7 M100.9 391.4 h11.7 M827.0 391.4 h-11.7 M100.9 340.9 h11.7 M827.0 340.9 h-11.7 M100.9 315.7 h11.7 M827.0 315.7 h-11.7 M100.9 290.5 h11.7 M827.0 290.5 h-11.7 M100.9 240.1 h11.7 M827.0 240.1 h-11.7 M100.9 214.9 h11.7 M827.0 214.9 h-11.7 M100.9 189.7 h11.7 M827.0 189.7 h-11.7 M100.9 139.2 h11.7 M827.0 139.2 h-11.7 M100.9 114.0 h11.7 M827.0 114.0 h-11.7 M100.9 88.8 h11.7 M827.0 88.8 h-11.7 M100.9 38.4 h11.7 M827.0 38.4 h-11.7 M100.9 13.2 h11.7 M827.0 13.2 h-11.7" stroke-width="2.1"/>
</g>
<g>
<text transform="translate(153.57 767.60) scale(1.0859 1.0868)" font-size="28.30" stroke="#fff" stroke-width="0.28">3</text>
<text transform="translate(255.41 767.60) scale(0.9575 1.0951)" font-size="28.30" stroke="#fff" stroke-width="0.31">4</text>
<text transform="translate(354.91 767.60) scale(1.1131 1.0951)" font-size="28.30" stroke="#fff" stroke-width="0.27">5</text>
<text transform="translate(456.32 767.60) scale(1.0476 1.0868)" font-size="28.30" stroke="#fff" stroke-width="0.29">6</text>
<text transform="translate(556.48 767.60) scale(1.0993 1.0951)" font-size="28.30" stroke="#fff" stroke-width="0.27">7</text>
<text transform="translate(658.14 767.60) scale(1.0601 1.0787)" font-size="28.30" stroke="#fff" stroke-width="0.28">8</text>
<text transform="translate(759.31 767.60) scale(1.0354 1.0868)" font-size="28.30" stroke="#fff" stroke-width="0.29">9</text>
<text transform="translate(76.15 668.70) rotate(-90) translate(-18.48 0) scale(1.0450 1.0787)" font-size="28.30" stroke="#fff" stroke-width="0.29">8.0</text>
<text transform="translate(76.15 567.85) rotate(-90) translate(-18.50 0) scale(1.0585 1.0787)" font-size="28.30" stroke="#fff" stroke-width="0.28">8.2</text>
<text transform="translate(76.15 467.00) rotate(-90) translate(-18.46 0) scale(1.0231 1.0787)" font-size="28.30" stroke="#fff" stroke-width="0.29">8.4</text>
<text transform="translate(76.15 366.15) rotate(-90) translate(-18.47 0) scale(1.0361 1.0787)" font-size="28.30" stroke="#fff" stroke-width="0.29">8.6</text>
<text transform="translate(76.15 265.30) rotate(-90) translate(-18.48 0) scale(1.0450 1.0787)" font-size="28.30" stroke="#fff" stroke-width="0.29">8.8</text>
<text transform="translate(76.15 164.45) rotate(-90) translate(-18.18 0) scale(1.0361 1.0787)" font-size="28.30" stroke="#fff" stroke-width="0.29">9.0</text>
<text transform="translate(76.15 63.60) rotate(-90) translate(-18.19 0) scale(1.0495 1.0868)" font-size="28.30" stroke="#fff" stroke-width="0.29">9.2</text>
<text transform="translate(361.75 811.80) scale(0.9789 1.0000)" font-size="33.20" stroke="#fff" stroke-width="0.31">log</text>
<text transform="translate(414.78 811.80) scale(1.1795 1.0000)" font-size="33.20" font-style="italic" stroke="#fff" stroke-width="0.25">ρ</text>
<text transform="translate(446.76 811.80) scale(1.0276 1.0913)" font-size="33.20" stroke="#fff" stroke-width="0.29">(</text>
<text transform="translate(457.79 811.80) scale(1.2762 1.0000)" font-size="33.20" stroke="#fff" stroke-width="0.24">g/cm</text>
<text transform="translate(542.31 800.50) scale(1.3563 1.0000)" font-size="20.50" stroke="#fff" stroke-width="0.22">3</text>
<text transform="translate(556.85 811.80) scale(0.9500 1.0913)" font-size="33.20" stroke="#fff" stroke-width="0.32">)</text>
<text transform="translate(25.70 438.00) rotate(-90) translate(-0.70 0) scale(1.0591 1.0000)" font-size="33.20" stroke="#fff" stroke-width="0.28">log</text>
<text transform="translate(25.70 438.00) rotate(-90) translate(55.43 0) scale(1.1577 1.0426)" font-size="33.20" stroke="#fff" stroke-width="0.26">T</text>
<text transform="translate(25.70 438.00) rotate(-90) translate(93.30 0) scale(1.0040 1.0913)" font-size="33.20" stroke="#fff" stroke-width="0.30">(</text>
<text transform="translate(25.70 438.00) rotate(-90) translate(104.83 0) scale(1.0719 1.0426)" font-size="33.20" stroke="#fff" stroke-width="0.28">K</text>
<text transform="translate(25.70 438.00) rotate(-90) translate(132.12 0) scale(0.9847 1.0913)" font-size="33.20" stroke="#fff" stroke-width="0.30">)</text>
<path d="M191.5 64.5 H244" stroke="#FED976" stroke-width="6.2" stroke-linecap="round"/>
<text transform="translate(272.07 73.90) scale(1.0731 1.1113)" font-size="28.30" stroke="#fff" stroke-width="0.28">1.17</text>
<text transform="translate(326.02 73.90) scale(1.1196 1.1090)" font-size="28.30" font-style="italic" stroke="#fff" stroke-width="0.27">M</text>
<circle cx="362" cy="72.7" r="7.55" fill="none" stroke="#000" stroke-width="1.0"/><circle cx="362" cy="72.7" r="1.7" fill="#000"/>
<path d="M191.5 99.8 H244" stroke="#FEA440" stroke-width="6.2" stroke-linecap="round"/>
<text transform="translate(272.09 109.10) scale(1.0633 1.1029)" font-size="28.30" stroke="#fff" stroke-width="0.28">1.24</text>
<text transform="translate(326.02 109.10) scale(1.1196 1.1090)" font-size="28.30" font-style="italic" stroke="#fff" stroke-width="0.27">M</text>
<circle cx="362" cy="107.9" r="7.55" fill="none" stroke="#000" stroke-width="1.0"/><circle cx="362" cy="107.9" r="1.7" fill="#000"/>
<path d="M191.5 135.0 H244" stroke="#F85A28" stroke-width="6.2" stroke-linecap="round"/>
<text transform="translate(272.02 144.30) scale(1.0932 1.1029)" font-size="28.30" stroke="#fff" stroke-width="0.27">1.31</text>
<text transform="translate(326.02 144.30) scale(1.1196 1.1090)" font-size="28.30" font-style="italic" stroke="#fff" stroke-width="0.27">M</text>
<circle cx="362" cy="143.1" r="7.55" fill="none" stroke="#000" stroke-width="1.0"/><circle cx="362" cy="143.1" r="1.7" fill="#000"/>
<path d="M191.5 170.2 H244" stroke="#BD0026" stroke-width="6.2" stroke-linecap="round"/>
<text transform="translate(272.09 179.50) scale(1.0633 1.1029)" font-size="28.30" stroke="#fff" stroke-width="0.28">1.34</text>
<text transform="translate(326.02 179.50) scale(1.1196 1.1090)" font-size="28.30" font-style="italic" stroke="#fff" stroke-width="0.27">M</text>
<circle cx="362" cy="178.3" r="7.55" fill="none" stroke="#000" stroke-width="1.0"/><circle cx="362" cy="178.3" r="1.7" fill="#000"/>
<path d="M191.5 205.5 H244" stroke="#000" stroke-width="6.2" stroke-linecap="round"/>
<text transform="translate(272.07 214.70) scale(1.0731 1.1029)" font-size="28.30" stroke="#fff" stroke-width="0.28">1.37</text>
<text transform="translate(326.02 214.70) scale(1.1196 1.1090)" font-size="28.30" font-style="italic" stroke="#fff" stroke-width="0.27">M</text>
<circle cx="362" cy="213.5" r="7.55" fill="none" stroke="#000" stroke-width="1.0"/><circle cx="362" cy="213.5" r="1.7" fill="#000"/>
<path d="M191.5 240.8 H244" stroke="#000" stroke-width="6.2" stroke-linecap="round" stroke-dasharray="9.7 11.7"/>
<path d="M191.5 276.0 H244" stroke="#0000FF" stroke-width="6.2" stroke-linecap="round" stroke-dasharray="9.7 11.7"/>
<text transform="translate(271.73 249.90) scale(1.1198 1.0000)" font-size="28.30" stroke="#fff" stroke-width="0.27">center</text>
<text transform="translate(271.78 285.10) scale(1.0736 1.0000)" font-size="28.30" stroke="#fff" stroke-width="0.28">shell</text>
<text transform="translate(226.60 656.60) scale(1.1578 1.0000)" font-size="28.30" font-style="italic">μ</text>
<text transform="translate(242.56 662.80) scale(1.3974 1.0000)" font-size="20.00" font-style="italic" stroke="#fff" stroke-width="0.21">e</text>
<text transform="translate(265.12 659.90) scale(1.6110 1.0000)" font-size="28.30" stroke="#fff" stroke-width="0.19">=</text>
<text transform="translate(300.50 656.60) scale(1.0601 1.0000)" font-size="28.30" font-style="italic" stroke="#fff" stroke-width="0.28">k</text>
<text transform="translate(317.85 662.40) scale(1.2500 1.0000)" font-size="20.00" font-style="italic" stroke="#fff" stroke-width="0.24">B</text>
<text transform="translate(335.89 656.60) scale(1.3620 1.0655)" font-size="28.30" font-style="italic" stroke="#fff" stroke-width="0.22">T</text>
<path transform="translate(597.90 285.20)" d="M11.3,-13.6 C10.2,-14.6 8.8,-14.7 7.5,-14.4 C3.5,-13.6 0.3,-10.5 0.3,-6.5 C0.3,-2.4 2.4,0.5 5.6,0.5 C7.8,0.5 9.8,-0.3 11.0,-1.7 L10.5,-2.4 C9.4,-1.3 7.6,-0.6 5.9,-0.6 C3.9,-0.6 2.8,-3.3 2.8,-6.5 C2.8,-9.9 4.6,-12.7 7.4,-13.3 C8.8,-13.6 10.0,-13.4 10.8,-12.8 Z M1.9,-7.6 H9.6 V-6.5 H1.9 Z" fill="#000"/>
<text transform="translate(610.59 291.20) scale(1.1962 1.0000)" font-size="22.50" font-style="italic">c</text>
<path d="M624.2 284.75 H642.0 M633.1 275.9 V293.7" stroke="#000" stroke-width="1.25" fill="none"/>
<text transform="translate(644.39 291.20) scale(1.2071 1.0000)" font-size="22.50" font-style="italic">c</text>
<text transform="translate(666.33 287.20) scale(1.8162 1.0000)" font-size="28.30">=</text>
<path transform="translate(705.50 285.20)" d="M11.3,-13.6 C10.2,-14.6 8.8,-14.7 7.5,-14.4 C3.5,-13.6 0.3,-10.5 0.3,-6.5 C0.3,-2.4 2.4,0.5 5.6,0.5 C7.8,0.5 9.8,-0.3 11.0,-1.7 L10.5,-2.4 C9.4,-1.3 7.6,-0.6 5.9,-0.6 C3.9,-0.6 2.8,-3.3 2.8,-6.5 C2.8,-9.9 4.6,-12.7 7.4,-13.3 C8.8,-13.6 10.0,-13.4 10.8,-12.8 Z M1.9,-7.6 H9.6 V-6.5 H1.9 Z" fill="#000"/>
<text transform="translate(717.13 290.00) scale(1.5814 1.0000)" font-size="20.00" font-style="italic">ν</text>
</g>
</svg></body></html>
